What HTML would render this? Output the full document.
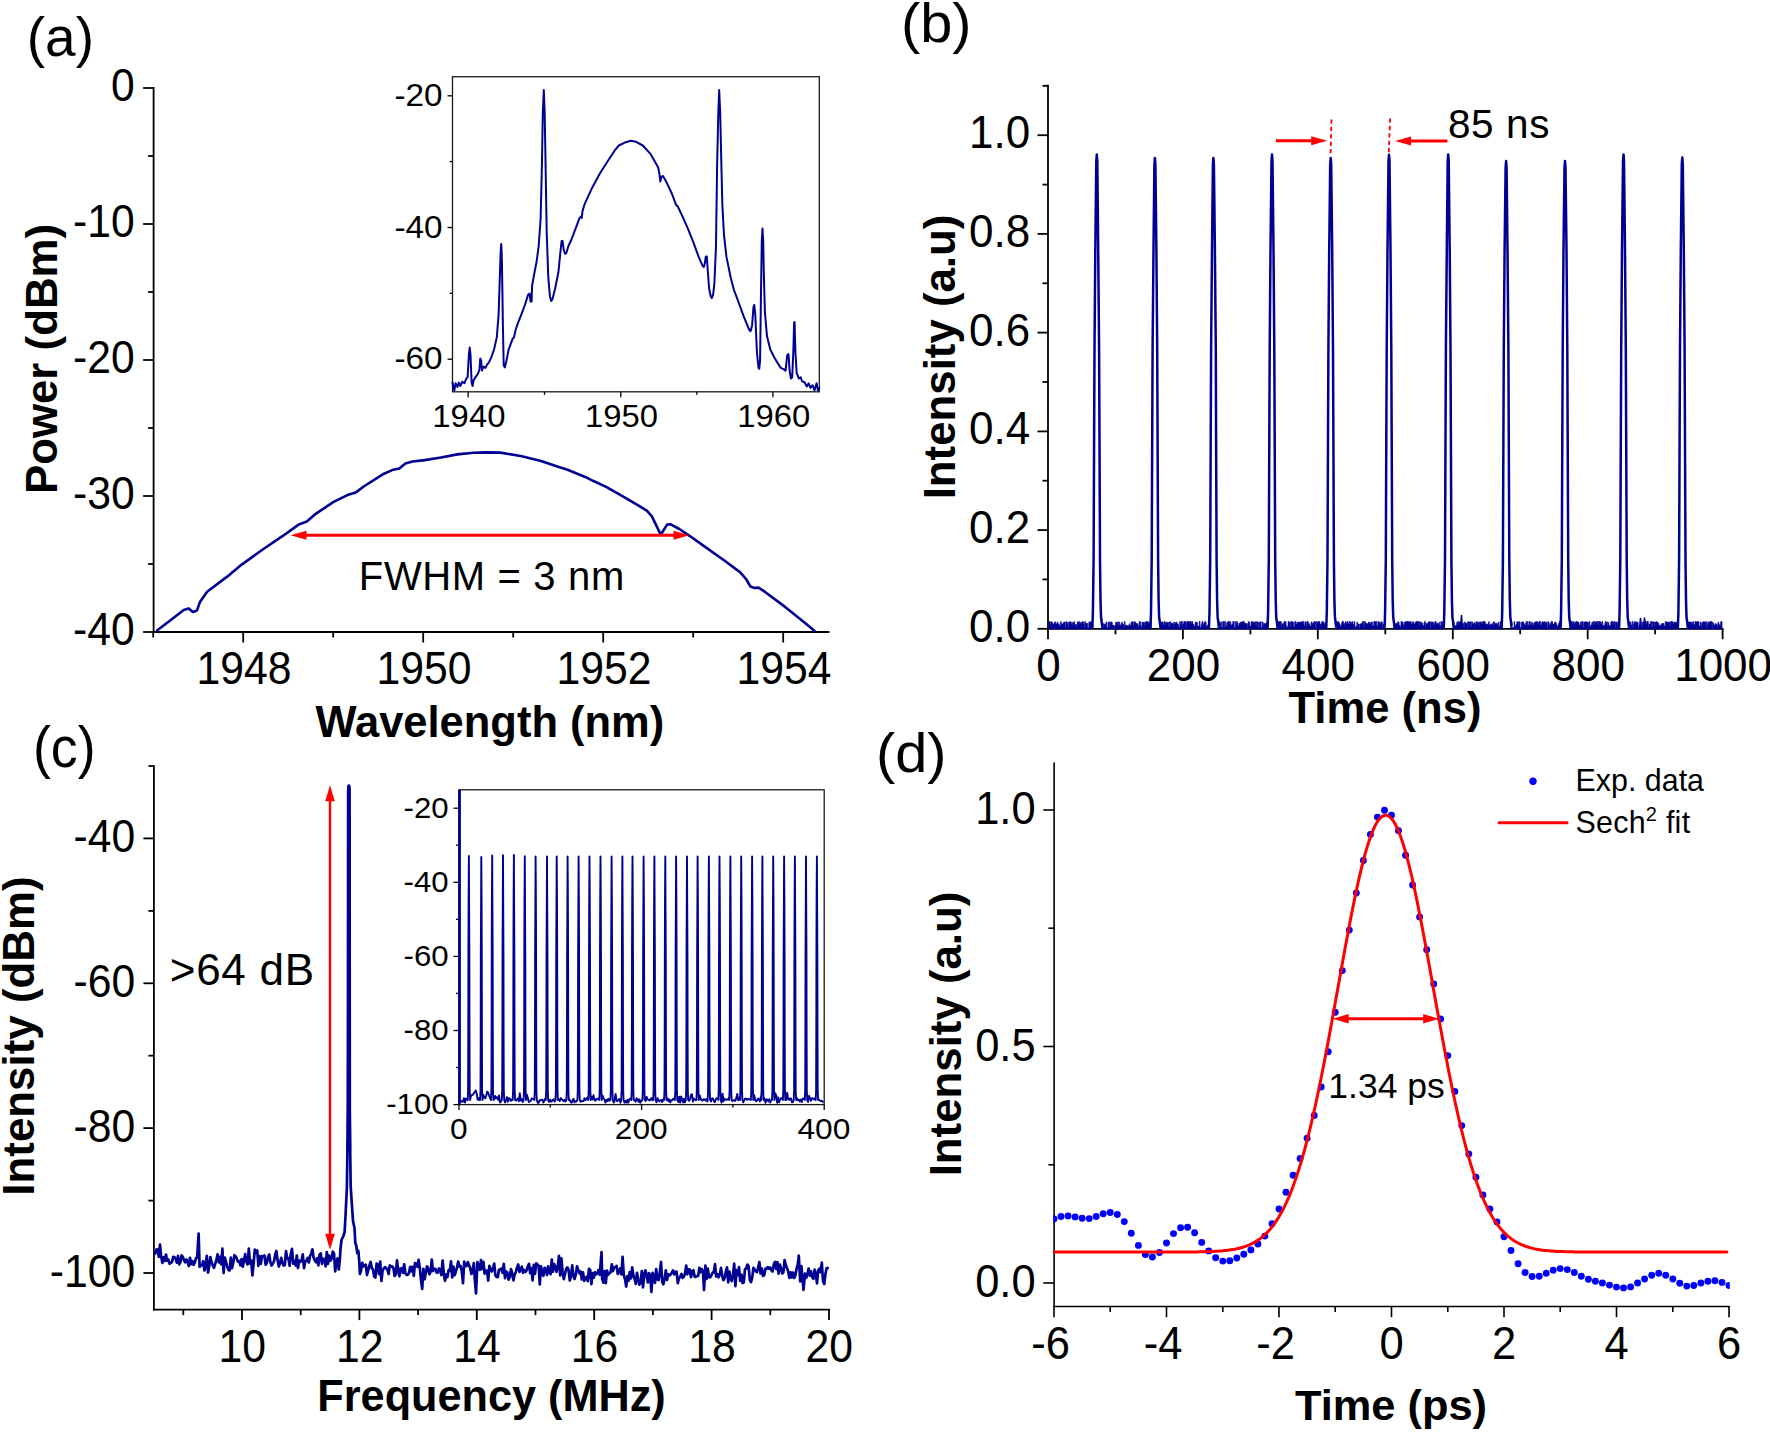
<!DOCTYPE html>
<html lang="en"><head><meta charset="utf-8"><title>Figure</title>
<style>html,body{margin:0;padding:0;background:#fff;}svg{display:block;}text{font-family:"Liberation Sans", sans-serif;fill:#000;}</style></head><body>
<svg width="1770" height="1432" viewBox="0 0 1770 1432">
<rect width="1770" height="1432" fill="#fff"/>
<line x1="153.6" y1="87.1" x2="153.6" y2="632.9" stroke="#000" stroke-width="1.8" />
<line x1="152.7" y1="632" x2="829.5" y2="632" stroke="#000" stroke-width="1.8" />
<line x1="143.1" y1="88" x2="153.6" y2="88" stroke="#000" stroke-width="1.8" />
<text transform="translate(134.7,100.6) scale(1.0,1.08)" font-size="42.7" text-anchor="end" font-weight="normal" >0</text>
<line x1="148.1" y1="156" x2="153.6" y2="156" stroke="#000" stroke-width="1.8" />
<line x1="143.1" y1="224" x2="153.6" y2="224" stroke="#000" stroke-width="1.8" />
<text transform="translate(134.7,236.6) scale(1.0,1.08)" font-size="42.7" text-anchor="end" font-weight="normal" >-10</text>
<line x1="148.1" y1="292" x2="153.6" y2="292" stroke="#000" stroke-width="1.8" />
<line x1="143.1" y1="360" x2="153.6" y2="360" stroke="#000" stroke-width="1.8" />
<text transform="translate(134.7,372.6) scale(1.0,1.08)" font-size="42.7" text-anchor="end" font-weight="normal" >-20</text>
<line x1="148.1" y1="428" x2="153.6" y2="428" stroke="#000" stroke-width="1.8" />
<line x1="143.1" y1="496" x2="153.6" y2="496" stroke="#000" stroke-width="1.8" />
<text transform="translate(134.7,508.6) scale(1.0,1.08)" font-size="42.7" text-anchor="end" font-weight="normal" >-30</text>
<line x1="148.1" y1="564" x2="153.6" y2="564" stroke="#000" stroke-width="1.8" />
<line x1="143.1" y1="632" x2="153.6" y2="632" stroke="#000" stroke-width="1.8" />
<text transform="translate(134.7,644.6) scale(1.0,1.08)" font-size="42.7" text-anchor="end" font-weight="normal" >-40</text>
<line x1="243.2" y1="632" x2="243.2" y2="642.5" stroke="#000" stroke-width="1.8" />
<text transform="translate(244,684) scale(1.0,1.1)" font-size="42.7" text-anchor="middle" font-weight="normal" >1948</text>
<line x1="153.2" y1="632" x2="153.2" y2="637.5" stroke="#000" stroke-width="1.8" />
<line x1="423.2" y1="632" x2="423.2" y2="642.5" stroke="#000" stroke-width="1.8" />
<text transform="translate(424,684) scale(1.0,1.1)" font-size="42.7" text-anchor="middle" font-weight="normal" >1950</text>
<line x1="333.2" y1="632" x2="333.2" y2="637.5" stroke="#000" stroke-width="1.8" />
<line x1="603.2" y1="632" x2="603.2" y2="642.5" stroke="#000" stroke-width="1.8" />
<text transform="translate(604,684) scale(1.0,1.1)" font-size="42.7" text-anchor="middle" font-weight="normal" >1952</text>
<line x1="513.2" y1="632" x2="513.2" y2="637.5" stroke="#000" stroke-width="1.8" />
<line x1="783.2" y1="632" x2="783.2" y2="642.5" stroke="#000" stroke-width="1.8" />
<text transform="translate(784,684) scale(1.0,1.1)" font-size="42.7" text-anchor="middle" font-weight="normal" >1954</text>
<line x1="693.2" y1="632" x2="693.2" y2="637.5" stroke="#000" stroke-width="1.8" />
<text transform="translate(57.3,359) rotate(-90)" font-size="43.8" text-anchor="middle" font-weight="bold">Power (dBm)</text>
<text transform="translate(489.9,736.8) scale(1.0,1.02)" font-size="43.5" text-anchor="middle" font-weight="bold" >Wavelength (nm)</text>
<text transform="translate(26.8,55.6) scale(0.99,1.0)" font-size="55.5" text-anchor="start" font-weight="normal" >(a)</text>
<polyline points="157.3,630.3 170.5,620.2 183.7,610 188.8,608.4 192.9,612 196.9,610.6 200,601.9 207.1,591.7 227.5,576.4 241.7,564.6 262,550 282.4,536.2 298.6,524.6 306.8,521.5 314.9,514.4 333.2,502.2 347.4,495.1 355.6,492.6 363.7,486.5 384,473.7 392.2,470.1 399.3,468.6 405.4,463.6 412.5,461.5 424.7,460.1 441,457.5 457.3,454.4 473.5,452.8 485.7,452.4 500.3,452.6 520.7,456 541,460.9 557.3,466.6 567.5,469.7 585.8,477.2 592.9,480.8 606.1,486.9 622.4,496.1 638.6,505.7 646.8,510.7 651.9,516.4 655.9,524.6 660,533.3 662,532.7 667.1,524.6 670.2,524.2 679.3,529 689.5,535.8 703.7,545.9 724,560.2 740.3,572.4 746.4,579.5 750.5,586.6 754.6,588 758.6,587.6 764.7,591.7 785.1,606.9 805.4,623.2 814.6,631" fill="none" stroke="#000092" stroke-width="2.6" stroke-linejoin="round" stroke-linecap="round" />
<polygon points="290.5,535.3 306.5,530.8 306.5,539.8" fill="#ff0000"/>
<polygon points="689.5,535.3 673.5,530.8 673.5,539.8" fill="#ff0000"/>
<line x1="305.5" y1="535.3" x2="674.5" y2="535.3" stroke="#ff0000" stroke-width="3" />
<text x="358.8" y="590" font-size="40" text-anchor="start" font-weight="normal"  letter-spacing="0.65">FWHM = 3 nm</text>
<rect x="452.5" y="76.7" width="366.8" height="315.1" fill="none" stroke="#1a1a1a" stroke-width="1.3"/>
<line x1="447.5" y1="95.8" x2="452.5" y2="95.8" stroke="#000" stroke-width="1.3" />
<text transform="translate(442.6,105.9) scale(1.075,1.0)" font-size="31" text-anchor="end" font-weight="normal" >-20</text>
<line x1="447.5" y1="227.5" x2="452.5" y2="227.5" stroke="#000" stroke-width="1.3" />
<text transform="translate(442.6,237.6) scale(1.075,1.0)" font-size="31" text-anchor="end" font-weight="normal" >-40</text>
<line x1="447.5" y1="359.2" x2="452.5" y2="359.2" stroke="#000" stroke-width="1.3" />
<text transform="translate(442.6,369.3) scale(1.075,1.0)" font-size="31" text-anchor="end" font-weight="normal" >-60</text>
<line x1="449.7" y1="161.6" x2="452.5" y2="161.6" stroke="#000" stroke-width="1.3" />
<line x1="449.7" y1="293.3" x2="452.5" y2="293.3" stroke="#000" stroke-width="1.3" />
<line x1="468.1" y1="391.8" x2="468.1" y2="397.3" stroke="#000" stroke-width="1.3" />
<text transform="translate(468.9,427.2) scale(1.06,1.0)" font-size="31" text-anchor="middle" font-weight="normal" >1940</text>
<line x1="620.8" y1="391.8" x2="620.8" y2="397.3" stroke="#000" stroke-width="1.3" />
<text transform="translate(621.6,427.2) scale(1.06,1.0)" font-size="31" text-anchor="middle" font-weight="normal" >1950</text>
<line x1="772.9" y1="391.8" x2="772.9" y2="397.3" stroke="#000" stroke-width="1.3" />
<text transform="translate(773.7,427.2) scale(1.06,1.0)" font-size="31" text-anchor="middle" font-weight="normal" >1960</text>
<line x1="544.5" y1="391.8" x2="544.5" y2="394.8" stroke="#000" stroke-width="1.3" />
<line x1="696.8" y1="391.8" x2="696.8" y2="394.8" stroke="#000" stroke-width="1.3" />
<polyline points="452.5,382.5 454.3,390.5 455.6,383.3 457.5,387 458.8,382.5 460.4,386 462.3,381.7 464.4,383.3 466.3,378.5 467.6,377.2 468.9,354.6 469.7,347.5 470.5,354.6 471.6,382.5 472.6,386 473.7,379.8 475.6,377.2 478.2,373.2 479.5,369.2 480.3,358.6 481.1,359.9 481.9,370.6 483.5,366.6 485.4,367.9 487,364.7 488.8,362.6 491.5,356.8 494.1,349.3 496.8,337.4 498.6,314.8 500,272.3 500.6,253.8 501.2,243.9 501.7,253.8 502.1,272.3 502.9,325.4 503.7,365.3 504.8,367.4 506.1,362.6 508.7,349.3 512.7,338.7 514,337.4 515.4,330.7 518,322.8 520.7,316.1 524.7,305.5 528.1,294.9 529.7,293.6 530.5,301.5 531.6,301.5 532.1,285.6 534,275 536.6,261.7 538.7,245.8 540.6,219.3 541.9,166.2 542.8,113.1 543.8,90 544.7,113.1 545.6,166.2 546.7,232.5 548.3,277.7 549.9,296.2 551.2,301 552.5,298.9 555.2,288.3 558.4,272.3 560.5,251.1 561.6,241 562.6,241 563.7,249.8 565,253.8 566.3,253.2 568.5,245.8 571.1,240.5 575.1,229.9 579.6,217.9 580.9,216.6 581.7,217.9 582.5,211.3 584.4,204.7 592.3,187.4 600.3,172.8 608.3,160.3 614.9,150.2 618.9,145.5 624.2,142.8 630.8,140.7 636.1,141.8 642.8,145.5 650.7,154.2 658.2,167.5 659.5,174.1 660.3,181.6 661.4,176.8 663,176 666.7,182.6 672,194 676,204.7 677.8,206.5 682.6,216.6 687.9,228.6 693.2,241.8 698.5,256.4 702.5,265.7 703.8,267 704.9,263.1 705.7,257 706.8,256.4 707.5,267 709.1,288.3 710.7,296.2 711.8,298.1 713.1,294.9 714.4,283 716,245.8 717.1,166.2 718.3,113.1 719.2,90 720.2,113.1 721.4,166.2 722.4,206 724,235.2 726.4,256.4 730.4,276.3 733.8,289.6 738.3,301.5 743.6,316.1 749,329.4 750.5,331.3 752.1,325.4 753.5,306.9 754.3,305 755.3,314.8 756.9,352 758.5,367.9 759.3,368.7 760.1,359.9 760.9,298.9 761.8,240.5 762.5,228.6 763.2,240.5 763.8,272.3 764.9,312.2 767,336.1 770.2,349.3 774.2,357.3 778.2,363.9 780.8,367.9 783.5,369.2 785.6,370.6 787.2,355.2 788.5,354.1 789.6,370.6 790.9,378.5 792.2,377.2 793.3,352 794.1,322.8 794.6,322 795.4,352 796.7,373.2 798.9,378.5 800.7,377.2 802,381.2 804.7,382.5 806.8,386.5 808.7,383.3 810.5,387.8 812.7,385.2 814.5,390.5 816.6,383.3 818,390.5 819.3,387.8" fill="none" stroke="#000092" stroke-width="2.0" stroke-linejoin="round" stroke-linecap="round" />
<line x1="1048" y1="84.7" x2="1048" y2="629.7" stroke="#000" stroke-width="1.8" />
<line x1="1047.1" y1="628.8" x2="1723.5" y2="628.8" stroke="#000" stroke-width="1.8" />
<line x1="1037.5" y1="135.2" x2="1048" y2="135.2" stroke="#000" stroke-width="1.8" />
<text transform="translate(1030.2,148.1) scale(1.0,1.03)" font-size="44" text-anchor="end" font-weight="normal" >1.0</text>
<line x1="1042.5" y1="85.8" x2="1048" y2="85.8" stroke="#000" stroke-width="1.8" />
<line x1="1037.5" y1="233.9" x2="1048" y2="233.9" stroke="#000" stroke-width="1.8" />
<text transform="translate(1030.2,246.8) scale(1.0,1.03)" font-size="44" text-anchor="end" font-weight="normal" >0.8</text>
<line x1="1042.5" y1="184.6" x2="1048" y2="184.6" stroke="#000" stroke-width="1.8" />
<line x1="1037.5" y1="332.6" x2="1048" y2="332.6" stroke="#000" stroke-width="1.8" />
<text transform="translate(1030.2,345.5) scale(1.0,1.03)" font-size="44" text-anchor="end" font-weight="normal" >0.6</text>
<line x1="1042.5" y1="283.3" x2="1048" y2="283.3" stroke="#000" stroke-width="1.8" />
<line x1="1037.5" y1="431.4" x2="1048" y2="431.4" stroke="#000" stroke-width="1.8" />
<text transform="translate(1030.2,444.3) scale(1.0,1.03)" font-size="44" text-anchor="end" font-weight="normal" >0.4</text>
<line x1="1042.5" y1="382" x2="1048" y2="382" stroke="#000" stroke-width="1.8" />
<line x1="1037.5" y1="530.1" x2="1048" y2="530.1" stroke="#000" stroke-width="1.8" />
<text transform="translate(1030.2,543) scale(1.0,1.03)" font-size="44" text-anchor="end" font-weight="normal" >0.2</text>
<line x1="1042.5" y1="480.7" x2="1048" y2="480.7" stroke="#000" stroke-width="1.8" />
<line x1="1037.5" y1="628.8" x2="1048" y2="628.8" stroke="#000" stroke-width="1.8" />
<text transform="translate(1030.2,641.7) scale(1.0,1.03)" font-size="44" text-anchor="end" font-weight="normal" >0.0</text>
<line x1="1042.5" y1="579.4" x2="1048" y2="579.4" stroke="#000" stroke-width="1.8" />
<line x1="1048" y1="628.8" x2="1048" y2="639.3" stroke="#000" stroke-width="1.8" />
<text transform="translate(1048.5,681.3) scale(1.0,1.03)" font-size="44" text-anchor="middle" font-weight="normal" >0</text>
<line x1="1115.5" y1="628.8" x2="1115.5" y2="634.3" stroke="#000" stroke-width="1.8" />
<line x1="1182.9" y1="628.8" x2="1182.9" y2="639.3" stroke="#000" stroke-width="1.8" />
<text transform="translate(1183.4,681.3) scale(1.0,1.03)" font-size="44" text-anchor="middle" font-weight="normal" >200</text>
<line x1="1250.4" y1="628.8" x2="1250.4" y2="634.3" stroke="#000" stroke-width="1.8" />
<line x1="1317.8" y1="628.8" x2="1317.8" y2="639.3" stroke="#000" stroke-width="1.8" />
<text transform="translate(1318.3,681.3) scale(1.0,1.03)" font-size="44" text-anchor="middle" font-weight="normal" >400</text>
<line x1="1385.3" y1="628.8" x2="1385.3" y2="634.3" stroke="#000" stroke-width="1.8" />
<line x1="1452.8" y1="628.8" x2="1452.8" y2="639.3" stroke="#000" stroke-width="1.8" />
<text transform="translate(1453.3,681.3) scale(1.0,1.03)" font-size="44" text-anchor="middle" font-weight="normal" >600</text>
<line x1="1520.2" y1="628.8" x2="1520.2" y2="634.3" stroke="#000" stroke-width="1.8" />
<line x1="1587.7" y1="628.8" x2="1587.7" y2="639.3" stroke="#000" stroke-width="1.8" />
<text transform="translate(1588.2,681.3) scale(1.0,1.03)" font-size="44" text-anchor="middle" font-weight="normal" >800</text>
<line x1="1655.1" y1="628.8" x2="1655.1" y2="634.3" stroke="#000" stroke-width="1.8" />
<line x1="1722.6" y1="628.8" x2="1722.6" y2="639.3" stroke="#000" stroke-width="1.8" />
<text transform="translate(1723.1,681.3) scale(1.0,1.03)" font-size="44" text-anchor="middle" font-weight="normal" >1000</text>
<text transform="translate(955,357) rotate(-90)" font-size="43.8" text-anchor="middle" font-weight="bold">Intensity (a.u)</text>
<text x="1385" y="722.7" font-size="43.6" text-anchor="middle" font-weight="bold" >Time (ns)</text>
<text transform="translate(901,41.5) scale(1.03,1.0)" font-size="56" text-anchor="start" font-weight="normal" >(b)</text>
<path d="M1049,629L1049,621.6L1049.7,621.6L1049.7,621.9L1050.3,621.9L1050.3,624.3L1051,624.3L1051,621.8L1051.7,621.8L1051.7,622L1052.4,622L1052.4,625.1L1053,625.1L1053,623.9L1053.7,623.9L1053.7,623.7L1054.4,623.7L1054.4,622.3L1055.1,622.3L1055.1,621.9L1055.7,621.9L1055.7,624L1056.4,624L1056.4,624L1057.1,624L1057.1,622.1L1057.8,622.1L1057.8,623.8L1059.1,623.8L1059.1,625.6L1060.5,625.6L1060.5,621.6L1061.1,621.6L1061.1,623.5L1061.8,623.5L1061.8,624.3L1063.2,624.3L1063.2,622.4L1063.8,622.4L1063.8,623.4L1064.5,623.4L1064.5,621.9L1065.2,621.9L1065.2,626.9L1065.9,626.9L1065.9,621.8L1067.2,621.8L1067.2,623.7L1067.9,623.7L1067.9,627.3L1068.6,627.3L1068.6,622.1L1069.9,622.1L1069.9,621.8L1070.6,621.8L1070.6,621.9L1071.3,621.9L1071.3,623.8L1071.9,623.8L1071.9,625.2L1072.6,625.2L1072.6,622.3L1074,622.3L1074,621.8L1074.6,621.8L1074.6,626L1075.3,626L1075.3,624.4L1076.7,624.4L1076.7,627L1077.3,627L1077.3,622.1L1078,622.1L1078,622L1078.7,622L1078.7,621.5L1079.4,621.5L1079.4,623.6L1080,623.6L1080,623.8L1080.7,623.8L1080.7,622.3L1082.1,622.3L1082.1,621.8L1083.4,621.8L1083.4,623.3L1084.1,623.3L1084.1,627.2L1084.8,627.2L1084.8,621.5L1085.4,621.5L1085.4,623.8L1086.1,623.8L1086.1,623.3L1086.8,623.3L1086.8,623.4L1087.5,623.4L1087.5,627.4L1088.8,627.4L1088.8,622.2L1090.2,622.2L1090.2,621.7L1090.8,621.7L1090.8,621.7L1091.5,621.7L1091.5,622.1L1092.2,622.1L1092.2,622.4L1092.8,622.4L1092.8,629Z" fill="#000092" stroke="#000092" stroke-width="0.7" stroke-linejoin="round"/>
<path d="M1101.4,629L1101.4,621.9L1102.1,621.9L1102.1,625.4L1102.7,625.4L1102.7,623.5L1103.4,623.5L1103.4,627.2L1104.1,627.2L1104.1,624.1L1104.8,624.1L1104.8,623.9L1105.4,623.9L1105.4,626L1106.1,626L1106.1,621.9L1106.8,621.9L1106.8,627.6L1108.1,627.6L1108.1,622.1L1108.8,622.1L1108.8,622.3L1109.5,622.3L1109.5,627.2L1110.2,627.2L1110.2,621.9L1110.8,621.9L1110.8,622L1111.5,622L1111.5,622.1L1112.2,622.1L1112.2,625.1L1113.5,625.1L1113.5,625.9L1114.9,625.9L1114.9,625.5L1115.6,625.5L1115.6,622.3L1116.9,622.3L1116.9,622.1L1117.6,622.1L1117.6,625.2L1118.3,625.2L1118.3,622L1119.6,622L1119.6,625.2L1121,625.2L1121,623.6L1121.6,623.6L1121.6,622.2L1122.3,622.2L1122.3,624.3L1123.7,624.3L1123.7,627L1124.3,627L1124.3,621.6L1125,621.6L1125,625.4L1126.4,625.4L1126.4,625.1L1127,625.1L1127,625.8L1128.4,625.8L1128.4,626.1L1129.1,626.1L1129.1,623.8L1129.7,623.8L1129.7,625.9L1130.4,625.9L1130.4,625.2L1131.1,625.2L1131.1,622.1L1131.8,622.1L1131.8,621.9L1133.1,621.9L1133.1,625.1L1133.8,625.1L1133.8,621.7L1134.5,621.7L1134.5,623.9L1135.1,623.9L1135.1,622L1135.8,622L1135.8,623.7L1137.2,623.7L1137.2,623.5L1137.8,623.5L1137.8,627.7L1138.5,627.7L1138.5,625.2L1139.2,625.2L1139.2,621.7L1139.9,621.7L1139.9,621.6L1140.5,621.6L1140.5,626.1L1141.2,626.1L1141.2,627.4L1141.9,627.4L1141.9,622.3L1143.2,622.3L1143.2,622.4L1144.6,622.4L1144.6,625.2L1145.3,625.2L1145.3,621.8L1146.6,621.8L1146.6,621.6L1147.3,621.6L1147.3,621.8L1148,621.8L1148,623.7L1148.6,623.7L1148.6,621.9L1149.3,621.9L1149.3,623.3L1150,623.3L1150,626.9L1150.7,626.9L1150.7,622.3L1150.9,622.3L1150.9,629Z" fill="#000092" stroke="#000092" stroke-width="0.7" stroke-linejoin="round"/>
<path d="M1159.5,629L1159.5,621.5L1160.8,621.5L1160.8,625.8L1161.5,625.8L1161.5,621.9L1162.9,621.9L1162.9,623.3L1163.5,623.3L1163.5,625.2L1164.2,625.2L1164.2,621.4L1164.9,621.4L1164.9,625.1L1165.6,625.1L1165.6,622.3L1166.9,622.3L1166.9,622.4L1168.3,622.4L1168.3,627.1L1168.9,627.1L1168.9,622.1L1169.6,622.1L1169.6,627.1L1170.3,627.1L1170.3,621.7L1171,621.7L1171,623.4L1172.3,623.4L1172.3,623.4L1173,623.4L1173,626.2L1173.7,626.2L1173.7,622.1L1174.3,622.1L1174.3,623.5L1175.7,623.5L1175.7,622.2L1177,622.2L1177,623.9L1178.4,623.9L1178.4,627.1L1179.1,627.1L1179.1,627.1L1179.7,627.1L1179.7,621.7L1180.4,621.7L1180.4,625L1181.1,625L1181.1,621.5L1182.4,621.5L1182.4,625.8L1183.1,625.8L1183.1,624L1183.8,624L1183.8,621.6L1185.1,621.6L1185.1,621.8L1185.8,621.8L1185.8,627.3L1186.5,627.3L1186.5,622.3L1187.2,622.3L1187.2,621.4L1188.5,621.4L1188.5,621.7L1189.2,621.7L1189.2,622.2L1189.9,622.2L1189.9,621.5L1191.2,621.5L1191.2,623.7L1191.9,623.7L1191.9,621.6L1192.6,621.6L1192.6,624.1L1193.9,624.1L1193.9,625.9L1195.3,625.9L1195.3,622.1L1195.9,622.1L1195.9,622.2L1197.3,622.2L1197.3,626L1198,626L1198,627.6L1198.6,627.6L1198.6,625.7L1199.3,625.7L1199.3,621.4L1200,621.4L1200,627.2L1201.3,627.2L1201.3,624L1202,624L1202,621.4L1202.7,621.4L1202.7,625.6L1203.4,625.6L1203.4,623.3L1204.7,623.3L1204.7,621.5L1205.4,621.5L1205.4,622.2L1206.1,622.2L1206.1,626.2L1207.4,626.2L1207.4,625.1L1208.1,625.1L1208.1,625.7L1208.8,625.7L1208.8,621.5L1209.4,621.5L1209.4,629Z" fill="#000092" stroke="#000092" stroke-width="0.7" stroke-linejoin="round"/>
<path d="M1218,629L1218,624L1218.7,624L1218.7,621.5L1219.3,621.5L1219.3,626.9L1220,626.9L1220,623.5L1220.7,623.5L1220.7,621.9L1221.4,621.9L1221.4,627.3L1222,627.3L1222,627.7L1222.7,627.7L1222.7,621.5L1224.1,621.5L1224.1,627.2L1224.7,627.2L1224.7,621.5L1225.4,621.5L1225.4,626.9L1226.1,626.9L1226.1,625.8L1226.8,625.8L1226.8,622.3L1228.1,622.3L1228.1,621.4L1229.5,621.4L1229.5,623.7L1230.1,623.7L1230.1,621.8L1230.8,621.8L1230.8,625L1231.5,625L1231.5,625.1L1232.2,625.1L1232.2,624.3L1232.8,624.3L1232.8,621.5L1234.2,621.5L1234.2,627.4L1234.9,627.4L1234.9,627.6L1235.5,627.6L1235.5,621.5L1236.2,621.5L1236.2,623.4L1236.9,623.4L1236.9,621.7L1237.6,621.7L1237.6,625.5L1238.2,625.5L1238.2,625.8L1238.9,625.8L1238.9,623.3L1240.3,623.3L1240.3,622.2L1240.9,622.2L1240.9,622.3L1241.6,622.3L1241.6,621.8L1242.3,621.8L1242.3,622.1L1243,622.1L1243,621.6L1244.3,621.6L1244.3,623.7L1245,623.7L1245,623.3L1246.3,623.3L1246.3,623.7L1247,623.7L1247,627.2L1247.7,627.2L1247.7,623.5L1248.4,623.5L1248.4,621.5L1249,621.5L1249,622.2L1249.7,622.2L1249.7,625.9L1251.1,625.9L1251.1,622.1L1251.7,622.1L1251.7,621.7L1252.4,621.7L1252.4,622L1253.1,622L1253.1,621.9L1253.8,621.9L1253.8,622.3L1255.1,622.3L1255.1,621.8L1255.8,621.8L1255.8,626L1256.5,626L1256.5,621.8L1257.8,621.8L1257.8,627.3L1258.5,627.3L1258.5,622.3L1259.8,622.3L1259.8,627L1260.5,627L1260.5,621.6L1261.2,621.6L1261.2,627.5L1262.5,627.5L1262.5,622.2L1263.2,622.2L1263.2,625.3L1263.9,625.3L1263.9,623.6L1264.6,623.6L1264.6,623.8L1265.9,623.8L1265.9,623.3L1266.6,623.3L1266.6,622.3L1267.3,622.3L1267.3,621.6L1267.9,621.6L1267.9,621.7L1268,621.7L1268,629Z" fill="#000092" stroke="#000092" stroke-width="0.7" stroke-linejoin="round"/>
<path d="M1276.6,629L1276.6,621.7L1277.3,621.7L1277.3,621.6L1277.9,621.6L1277.9,621.8L1278.6,621.8L1278.6,621.6L1280,621.6L1280,621.6L1281.3,621.6L1281.3,627L1282,627L1282,624.1L1282.7,624.1L1282.7,623.4L1283.3,623.4L1283.3,625.6L1284,625.6L1284,621.6L1284.7,621.6L1284.7,621.6L1285.4,621.6L1285.4,622L1286,622L1286,625.6L1286.7,625.6L1286.7,626.9L1288.1,626.9L1288.1,621.4L1288.7,621.4L1288.7,622.1L1289.4,622.1L1289.4,622.3L1290.1,622.3L1290.1,626.2L1290.8,626.2L1290.8,621.6L1292.1,621.6L1292.1,622.1L1293.5,622.1L1293.5,626.2L1294.8,626.2L1294.8,621.4L1295.5,621.4L1295.5,621.8L1296.2,621.8L1296.2,624.1L1297.5,624.1L1297.5,622.2L1298.9,622.2L1298.9,622.1L1299.5,622.1L1299.5,622.3L1300.2,622.3L1300.2,622.1L1301.6,622.1L1301.6,621.8L1302.9,621.8L1302.9,621.4L1303.6,621.4L1303.6,625.1L1304.3,625.1L1304.3,626.1L1304.9,626.1L1304.9,621.7L1305.6,621.7L1305.6,622.1L1306.3,622.1L1306.3,627.1L1307,627.1L1307,621.6L1308.3,621.6L1308.3,623.8L1309.7,623.8L1309.7,626.1L1311,626.1L1311,621.9L1311.7,621.9L1311.7,625.9L1312.4,625.9L1312.4,623.6L1313,623.6L1313,622.2L1313.7,622.2L1313.7,623.7L1314.4,623.7L1314.4,621.5L1315.1,621.5L1315.1,621.9L1315.7,621.9L1315.7,627.7L1316.4,627.7L1316.4,621.5L1317.1,621.5L1317.1,622.4L1318.4,622.4L1318.4,621.5L1319.8,621.5L1319.8,624L1320.5,624L1320.5,625.4L1321.1,625.4L1321.1,623.6L1321.8,623.6L1321.8,621.6L1322.5,621.6L1322.5,621.7L1323.2,621.7L1323.2,621.8L1323.8,621.8L1323.8,623.5L1324.5,623.5L1324.5,624.4L1325.2,624.4L1325.2,622.3L1325.9,622.3L1325.9,626.1L1326.5,626.1L1326.5,625.3L1326.7,625.3L1326.7,629Z" fill="#000092" stroke="#000092" stroke-width="0.7" stroke-linejoin="round"/>
<path d="M1335.3,629L1335.3,622.4L1336,622.4L1336,627.2L1336.6,627.2L1336.6,621.7L1337.3,621.7L1337.3,622L1338,622L1338,621.8L1338.7,621.8L1338.7,622.4L1339.3,622.4L1339.3,624L1340,624L1340,626L1341.4,626L1341.4,623.4L1342,623.4L1342,621.4L1343.4,621.4L1343.4,623.3L1344.1,623.3L1344.1,625.8L1344.7,625.8L1344.7,623.3L1345.4,623.3L1345.4,621.7L1346.1,621.7L1346.1,623.7L1346.8,623.7L1346.8,622L1347.4,622L1347.4,621.4L1348.1,621.4L1348.1,623.7L1349.5,623.7L1349.5,621.4L1350.1,621.4L1350.1,622.2L1351.5,622.2L1351.5,623.6L1352.2,623.6L1352.2,621.5L1352.8,621.5L1352.8,624.3L1353.5,624.3L1353.5,624.3L1354.2,624.3L1354.2,621.7L1354.9,621.7L1354.9,626.9L1356.2,626.9L1356.2,626L1356.9,626L1356.9,622.2L1357.6,622.2L1357.6,627.3L1358.2,627.3L1358.2,624L1358.9,624L1358.9,627.4L1359.6,627.4L1359.6,624.2L1360.9,624.2L1360.9,623.4L1362.3,623.4L1362.3,621.6L1363.6,621.6L1363.6,627L1364.3,627L1364.3,621.6L1365,621.6L1365,622L1365.7,622L1365.7,623.6L1367,623.6L1367,623.9L1367.7,623.9L1367.7,623.6L1368.4,623.6L1368.4,622.1L1369.7,622.1L1369.7,623.4L1370.4,623.4L1370.4,623.8L1371.1,623.8L1371.1,622L1372.4,622L1372.4,626L1373.8,626L1373.8,621.5L1375.1,621.5L1375.1,622.2L1375.8,622.2L1375.8,621.5L1376.5,621.5L1376.5,625.6L1377.1,625.6L1377.1,626.1L1377.8,626.1L1377.8,621.5L1378.5,621.5L1378.5,622.4L1379.8,622.4L1379.8,622.2L1380.5,622.2L1380.5,624.1L1381.2,624.1L1381.2,621.8L1381.9,621.8L1381.9,622.3L1382.5,622.3L1382.5,627.3L1383.2,627.3L1383.2,624.3L1383.9,624.3L1383.9,623.9L1384.6,623.9L1384.6,621.4L1385,621.4L1385,629Z" fill="#000092" stroke="#000092" stroke-width="0.7" stroke-linejoin="round"/>
<path d="M1393.6,629L1393.6,622L1394.3,622L1394.3,624.3L1394.9,624.3L1394.9,625.3L1395.6,625.3L1395.6,623.6L1397,623.6L1397,623.9L1397.6,623.9L1397.6,621.9L1399,621.9L1399,625.4L1400.3,625.4L1400.3,627.4L1401,627.4L1401,621.5L1401.7,621.5L1401.7,622.1L1402.4,622.1L1402.4,621.9L1403,621.9L1403,624.4L1403.7,624.4L1403.7,625.9L1404.4,625.9L1404.4,622L1405.7,622L1405.7,621.8L1406.4,621.8L1406.4,621.6L1407.1,621.6L1407.1,621.4L1407.8,621.4L1407.8,621.9L1408.4,621.9L1408.4,621.7L1409.1,621.7L1409.1,622L1410.5,622L1410.5,621.4L1411.1,621.4L1411.1,623.7L1411.8,623.7L1411.8,624.2L1412.5,624.2L1412.5,621.7L1413.2,621.7L1413.2,622.2L1413.8,622.2L1413.8,623.9L1415.2,623.9L1415.2,622.3L1415.9,622.3L1415.9,621.4L1416.5,621.4L1416.5,621.5L1417.2,621.5L1417.2,622L1417.9,622L1417.9,621.6L1419.2,621.6L1419.2,625.2L1419.9,625.2L1419.9,622L1421.3,622L1421.3,623.2L1422.6,623.2L1422.6,625.6L1424,625.6L1424,622.4L1424.6,622.4L1424.6,621.4L1425.3,621.4L1425.3,626.1L1426,626.1L1426,623.5L1427.3,623.5L1427.3,624.3L1428,624.3L1428,622.3L1428.7,622.3L1428.7,621.9L1429.4,621.9L1429.4,621.6L1430,621.6L1430,627.5L1430.7,627.5L1430.7,621.8L1431.4,621.8L1431.4,622.3L1432.7,622.3L1432.7,621.9L1433.4,621.9L1433.4,625.5L1434.1,625.5L1434.1,623.6L1434.8,623.6L1434.8,622L1435.4,622L1435.4,621.4L1436.1,621.4L1436.1,623.4L1436.8,623.4L1436.8,623.2L1437.5,623.2L1437.5,624L1438.1,624L1438.1,625.1L1438.8,625.1L1438.8,622.4L1439.5,622.4L1439.5,625.9L1440.8,625.9L1440.8,621.6L1441.5,621.6L1441.5,622.3L1442.2,622.3L1442.2,625.8L1442.9,625.8L1442.9,621.5L1443.5,621.5L1443.5,621.7L1444.2,621.7L1444.2,629Z" fill="#000092" stroke="#000092" stroke-width="0.7" stroke-linejoin="round"/>
<path d="M1452.8,629L1452.8,621.7L1453.5,621.7L1453.5,622.2L1454.1,622.2L1454.1,625.7L1455.5,625.7L1455.5,625.7L1456.2,625.7L1456.2,625L1456.8,625L1456.8,622.1L1457.5,622.1L1457.5,624.2L1458.2,624.2L1458.2,621.4L1458.9,621.4L1458.9,622.2L1459.5,622.2L1459.5,621.9L1460.9,621.9L1460.9,624.2L1462.2,624.2L1462.2,624.3L1462.9,624.3L1462.9,623.4L1463.6,623.4L1463.6,627L1464.3,627L1464.3,622L1464.9,622L1464.9,622.4L1465.6,622.4L1465.6,623.6L1467,623.6L1467,627.7L1467.6,627.7L1467.6,622L1468.3,622L1468.3,621.7L1469,621.7L1469,622.3L1469.7,622.3L1469.7,626.9L1470.3,626.9L1470.3,621.7L1471,621.7L1471,625.5L1471.7,625.5L1471.7,621.8L1472.4,621.8L1472.4,623.4L1473.7,623.4L1473.7,624L1474.4,624L1474.4,622.2L1475.1,622.2L1475.1,626.2L1475.7,626.2L1475.7,623.6L1476.4,623.6L1476.4,621.6L1477.1,621.6L1477.1,622.1L1477.8,622.1L1477.8,622.4L1478.4,622.4L1478.4,625.5L1479.1,625.5L1479.1,622.3L1479.8,622.3L1479.8,621.8L1480.5,621.8L1480.5,622.3L1481.8,622.3L1481.8,623.8L1482.5,623.8L1482.5,621.5L1483.8,621.5L1483.8,621.6L1485.2,621.6L1485.2,623.9L1486.5,623.9L1486.5,625.8L1487.2,625.8L1487.2,624L1488.6,624L1488.6,621.7L1489.2,621.7L1489.2,625.3L1490.6,625.3L1490.6,624L1491.3,624L1491.3,625.6L1491.9,625.6L1491.9,623.7L1492.6,623.7L1492.6,625.4L1493.3,625.4L1493.3,621.9L1494,621.9L1494,621.9L1494.6,621.9L1494.6,624.3L1495.3,624.3L1495.3,623.3L1496.7,623.3L1496.7,624.1L1497.3,624.1L1497.3,624.2L1498,624.2L1498,622.3L1498.7,622.3L1498.7,627L1499.4,627L1499.4,625.7L1500,625.7L1500,621.8L1500.7,621.8L1500.7,621.8L1502.1,621.8L1502.1,624L1502.1,624L1502.1,629Z" fill="#000092" stroke="#000092" stroke-width="0.7" stroke-linejoin="round"/>
<path d="M1510.7,629L1510.7,621.7L1512,621.7L1512,627.3L1512.7,627.3L1512.7,627.8L1514.1,627.8L1514.1,621.5L1514.7,621.5L1514.7,625.8L1516.1,625.8L1516.1,624.1L1516.8,624.1L1516.8,622L1518.1,622L1518.1,621.7L1518.8,621.7L1518.8,625.6L1519.5,625.6L1519.5,621.8L1520.1,621.8L1520.1,627.5L1521.5,627.5L1521.5,622.1L1522.2,622.1L1522.2,622.1L1522.8,622.1L1522.8,621.8L1523.5,621.8L1523.5,623.6L1524.2,623.6L1524.2,625.1L1524.9,625.1L1524.9,625.2L1525.5,625.2L1525.5,623.2L1526.2,623.2L1526.2,621.5L1526.9,621.5L1526.9,621.5L1527.6,621.5L1527.6,625.2L1528.9,625.2L1528.9,621.6L1530.3,621.6L1530.3,625.2L1530.9,625.2L1530.9,624.3L1531.6,624.3L1531.6,622.1L1532.3,622.1L1532.3,625.5L1533,625.5L1533,623.5L1533.6,623.5L1533.6,625.6L1534.3,625.6L1534.3,622.3L1535.7,622.3L1535.7,621.6L1536.3,621.6L1536.3,621.7L1537.7,621.7L1537.7,624.2L1538.4,624.2L1538.4,622.4L1539,622.4L1539,621.8L1539.7,621.8L1539.7,621.4L1540.4,621.4L1540.4,625.1L1541.7,625.1L1541.7,622.3L1542.4,622.3L1542.4,621.8L1543.1,621.8L1543.1,622.3L1543.8,622.3L1543.8,622.2L1544.4,622.2L1544.4,621.7L1545.1,621.7L1545.1,624.2L1545.8,624.2L1545.8,621.9L1546.5,621.9L1546.5,623.5L1547.1,623.5L1547.1,627.5L1547.8,627.5L1547.8,621.7L1548.5,621.7L1548.5,622.4L1549.2,622.4L1549.2,625L1550.5,625L1550.5,623.3L1551.2,623.3L1551.2,621.4L1552.5,621.4L1552.5,624L1553.9,624L1553.9,624L1554.6,624L1554.6,622.1L1555.9,622.1L1555.9,623.4L1556.6,623.4L1556.6,625.5L1557.3,625.5L1557.3,627.5L1557.9,627.5L1557.9,625.2L1558.6,625.2L1558.6,623.5L1559.3,623.5L1559.3,621.4L1560,621.4L1560,622L1560.6,622L1560.6,621.9L1561,621.9L1561,629Z" fill="#000092" stroke="#000092" stroke-width="0.7" stroke-linejoin="round"/>
<path d="M1569.6,629L1569.6,625.5L1570.9,625.5L1570.9,621.4L1572.3,621.4L1572.3,624.4L1573,624.4L1573,621.8L1573.6,621.8L1573.6,621.9L1574.3,621.9L1574.3,623.7L1575,623.7L1575,623.3L1575.7,623.3L1575.7,621.5L1577,621.5L1577,622.1L1577.7,622.1L1577.7,622.1L1578.4,622.1L1578.4,622.1L1579,622.1L1579,625.1L1580.4,625.1L1580.4,622.3L1581.1,622.3L1581.1,626.9L1581.7,626.9L1581.7,621.4L1582.4,621.4L1582.4,621.7L1583.1,621.7L1583.1,627.6L1583.8,627.6L1583.8,622.3L1585.1,622.3L1585.1,621.6L1585.8,621.6L1585.8,622L1587.1,622L1587.1,622.2L1588.5,622.2L1588.5,627.6L1589.2,627.6L1589.2,621.5L1589.8,621.5L1589.8,625.9L1590.5,625.9L1590.5,625.7L1591.2,625.7L1591.2,624.4L1591.9,624.4L1591.9,622.1L1592.5,622.1L1592.5,625.3L1593.2,625.3L1593.2,621.7L1593.9,621.7L1593.9,624.2L1594.6,624.2L1594.6,621.5L1595.2,621.5L1595.2,622.3L1596.6,622.3L1596.6,621.5L1597.9,621.5L1597.9,625.2L1598.6,625.2L1598.6,621.5L1600,621.5L1600,621.6L1600.6,621.6L1600.6,623.2L1602,623.2L1602,621.5L1602.7,621.5L1602.7,625.3L1603.3,625.3L1603.3,625.6L1604.7,625.6L1604.7,623.4L1605.4,623.4L1605.4,621.6L1606,621.6L1606,622L1607.4,622L1607.4,626L1608.1,626L1608.1,622.4L1608.7,622.4L1608.7,625.4L1610.1,625.4L1610.1,625.2L1610.8,625.2L1610.8,621.9L1611.4,621.9L1611.4,621.6L1612.8,621.6L1612.8,623.5L1613.5,623.5L1613.5,622.3L1614.1,622.3L1614.1,621.4L1614.8,621.4L1614.8,627.2L1615.5,627.2L1615.5,622L1616.8,622L1616.8,622.2L1617.5,622.2L1617.5,625.8L1618.2,625.8L1618.2,623.3L1618.9,623.3L1618.9,624L1619.5,624L1619.5,629Z" fill="#000092" stroke="#000092" stroke-width="0.7" stroke-linejoin="round"/>
<path d="M1628.1,629L1628.1,622.2L1628.8,622.2L1628.8,627.8L1629.4,627.8L1629.4,622.3L1630.1,622.3L1630.1,622L1630.8,622L1630.8,625.1L1632.1,625.1L1632.1,621.5L1632.8,621.5L1632.8,627.5L1633.5,627.5L1633.5,623.7L1634.2,623.7L1634.2,621.8L1635.5,621.8L1635.5,621.9L1636.2,621.9L1636.2,622.2L1636.9,622.2L1636.9,622.3L1637.5,622.3L1637.5,622.2L1638.2,622.2L1638.2,627.7L1638.9,627.7L1638.9,626.1L1640.2,626.1L1640.2,625.8L1641.6,625.8L1641.6,627.1L1642.3,627.1L1642.3,622L1642.9,622L1642.9,622.1L1643.6,622.1L1643.6,623.9L1644.3,623.9L1644.3,621.5L1645.6,621.5L1645.6,621.6L1646.3,621.6L1646.3,623.6L1647,623.6L1647,621.5L1648.3,621.5L1648.3,626.9L1649,626.9L1649,624.1L1649.7,624.1L1649.7,624.2L1650.4,624.2L1650.4,621.6L1651,621.6L1651,621.7L1651.7,621.7L1651.7,626.9L1652.4,626.9L1652.4,621.6L1653.1,621.6L1653.1,622L1654.4,622L1654.4,625.4L1655.1,625.4L1655.1,622.2L1655.8,622.2L1655.8,621.8L1657.1,621.8L1657.1,622L1657.8,622L1657.8,625.6L1658.5,625.6L1658.5,623.4L1659.1,623.4L1659.1,626.1L1660.5,626.1L1660.5,625.2L1661.2,625.2L1661.2,624L1661.8,624L1661.8,623.4L1662.5,623.4L1662.5,623.8L1663.2,623.8L1663.2,623.6L1663.9,623.6L1663.9,626L1665.2,626L1665.2,621.8L1666.6,621.8L1666.6,622.1L1667.2,622.1L1667.2,622.2L1667.9,622.2L1667.9,622.1L1668.6,622.1L1668.6,622.3L1669.3,622.3L1669.3,622.1L1669.9,622.1L1669.9,626L1670.6,626L1670.6,621.5L1672,621.5L1672,621.4L1672.6,621.4L1672.6,622.4L1673.3,622.4L1673.3,623.4L1674,623.4L1674,622.2L1674.7,622.2L1674.7,622.3L1675.3,622.3L1675.3,622.2L1676.7,622.2L1676.7,624L1677.4,624L1677.4,621.5L1678,621.5L1678,621.5L1678.3,621.5L1678.3,629Z" fill="#000092" stroke="#000092" stroke-width="0.7" stroke-linejoin="round"/>
<path d="M1686.9,629L1686.9,624.1L1687.6,624.1L1687.6,621.8L1688.2,621.8L1688.2,623.5L1688.9,623.5L1688.9,622L1690.3,622L1690.3,622.2L1691.6,622.2L1691.6,623.9L1692.3,623.9L1692.3,622.3L1693,622.3L1693,621.6L1693.6,621.6L1693.6,624.2L1694.3,624.2L1694.3,626L1695,626L1695,621.5L1695.7,621.5L1695.7,621.8L1696.3,621.8L1696.3,621.9L1697,621.9L1697,621.6L1697.7,621.6L1697.7,621.8L1699,621.8L1699,626.1L1699.7,626.1L1699.7,626.1L1700.4,626.1L1700.4,622L1701.1,622L1701.1,627.4L1701.7,627.4L1701.7,623.5L1702.4,623.5L1702.4,622.4L1703.1,622.4L1703.1,621.7L1703.8,621.7L1703.8,622L1704.4,622L1704.4,622L1705.1,622L1705.1,621.9L1705.8,621.9L1705.8,627.4L1706.5,627.4L1706.5,621.5L1707.1,621.5L1707.1,625.7L1707.8,625.7L1707.8,623.4L1708.5,623.4L1708.5,621.9L1709.8,621.9L1709.8,621.7L1710.5,621.7L1710.5,621.6L1711.9,621.6L1711.9,627.2L1712.5,627.2L1712.5,622.4L1713.2,622.4L1713.2,623.8L1713.9,623.8L1713.9,625.3L1714.6,625.3L1714.6,625.2L1715.2,625.2L1715.2,623.6L1715.9,623.6L1715.9,624.2L1716.6,624.2L1716.6,625.1L1717.3,625.1L1717.3,627.5L1717.9,627.5L1717.9,622.1L1718.6,622.1L1718.6,623.9L1719.3,623.9L1719.3,625.6L1720.6,625.6L1720.6,622L1721.3,622L1721.3,621.5L1722,621.5L1722,629Z" fill="#000092" stroke="#000092" stroke-width="0.7" stroke-linejoin="round"/>
<polyline points="1092.4,627 1092.9,612 1093.6,560 1094.1,440 1094.5,349 1095.3,250 1096.3,161 1096.8,154.6 1097.3,161 1098.2,250 1099.1,349 1099.5,440 1100,560 1100.5,600 1101,617 1102.1,625" fill="none" stroke="#000092" stroke-width="2.5" stroke-linejoin="round" stroke-linecap="round" />
<polyline points="1150.5,627 1151,612 1151.7,560 1152.2,440 1152.6,349 1153.5,250 1154.4,164.3 1154.9,157.9 1155.4,164.3 1156.4,250 1157.2,349 1157.6,440 1158.1,560 1158.6,600 1159.1,617 1160.2,625" fill="none" stroke="#000092" stroke-width="2.5" stroke-linejoin="round" stroke-linecap="round" />
<polyline points="1209,627 1209.5,612 1210.2,560 1210.7,440 1211.1,349 1212,250 1212.9,164.3 1213.4,157.9 1213.9,164.3 1214.9,250 1215.8,349 1216.1,440 1216.6,560 1217.1,600 1217.6,617 1218.7,625" fill="none" stroke="#000092" stroke-width="2.5" stroke-linejoin="round" stroke-linecap="round" />
<polyline points="1267.6,627 1268.1,612 1268.8,560 1269.3,440 1269.7,349 1270.5,250 1271.5,161 1272,154.6 1272.5,161 1273.5,250 1274.3,349 1274.7,440 1275.2,560 1275.7,600 1276.2,617 1277.3,625" fill="none" stroke="#000092" stroke-width="2.5" stroke-linejoin="round" stroke-linecap="round" />
<polyline points="1326.3,627 1326.8,612 1327.5,560 1328,440 1328.4,349 1329.2,250 1330.2,164.3 1330.7,157.9 1331.2,164.3 1332.2,250 1333,349 1333.4,440 1333.9,560 1334.4,600 1334.9,617 1336,625" fill="none" stroke="#000092" stroke-width="2.5" stroke-linejoin="round" stroke-linecap="round" />
<polyline points="1384.6,627 1385.1,612 1385.8,560 1386.3,440 1386.7,349 1387.5,250 1388.5,161.2 1389,154.8 1389.5,161.2 1390.5,250 1391.3,349 1391.7,440 1392.2,560 1392.7,600 1393.2,617 1394.3,625" fill="none" stroke="#000092" stroke-width="2.5" stroke-linejoin="round" stroke-linecap="round" />
<polyline points="1443.8,627 1444.3,612 1445,560 1445.5,440 1445.9,349 1446.8,250 1447.7,160.8 1448.2,154.4 1448.7,160.8 1449.7,250 1450.5,349 1450.9,440 1451.4,560 1451.9,600 1452.4,617 1453.5,625" fill="none" stroke="#000092" stroke-width="2.5" stroke-linejoin="round" stroke-linecap="round" />
<polyline points="1501.7,627 1502.2,612 1502.9,560 1503.4,440 1503.8,349 1504.6,250 1505.6,167.4 1506.1,161 1506.6,167.4 1507.5,250 1508.4,349 1508.8,440 1509.3,560 1509.8,600 1510.3,617 1511.4,625" fill="none" stroke="#000092" stroke-width="2.5" stroke-linejoin="round" stroke-linecap="round" />
<polyline points="1560.6,627 1561.1,612 1561.8,560 1562.3,440 1562.7,349 1563.5,250 1564.5,167.4 1565,161 1565.5,167.4 1566.5,250 1567.3,349 1567.7,440 1568.2,560 1568.7,600 1569.2,617 1570.3,625" fill="none" stroke="#000092" stroke-width="2.5" stroke-linejoin="round" stroke-linecap="round" />
<polyline points="1619.1,627 1619.6,612 1620.3,560 1620.8,440 1621.2,349 1622,250 1623,160.8 1623.5,154.4 1624,160.8 1625,250 1625.8,349 1626.2,440 1626.7,560 1627.2,600 1627.7,617 1628.8,625" fill="none" stroke="#000092" stroke-width="2.5" stroke-linejoin="round" stroke-linecap="round" />
<polyline points="1677.9,627 1678.4,612 1679.1,560 1679.6,440 1680,349 1680.8,250 1681.8,164 1682.3,157.6 1682.8,164 1683.8,250 1684.6,349 1685,440 1685.5,560 1686,600 1686.5,617 1687.6,625" fill="none" stroke="#000092" stroke-width="2.5" stroke-linejoin="round" stroke-linecap="round" />
<polyline points="1460.8,626 1461.5,615.5 1462.2,626" fill="none" stroke="#000092" stroke-width="1.6" stroke-linejoin="round" stroke-linecap="round" />
<polyline points="1639.8,626 1640.5,618.5 1641.2,626" fill="none" stroke="#000092" stroke-width="1.6" stroke-linejoin="round" stroke-linecap="round" />
<polyline points="1643.8,626 1644.5,618 1645.2,626" fill="none" stroke="#000092" stroke-width="1.6" stroke-linejoin="round" stroke-linecap="round" />
<polygon points="1327.2,140.8 1311.2,136.3 1311.2,145.3" fill="#ff0000"/>
<line x1="1276" y1="140.8" x2="1312.2" y2="140.8" stroke="#ff0000" stroke-width="3" />
<polygon points="1395,141 1411,136.5 1411,145.5" fill="#ff0000"/>
<line x1="1410" y1="141" x2="1447.5" y2="141" stroke="#ff0000" stroke-width="3" />
<line x1="1331.5" y1="119.5" x2="1330.5" y2="155.5" stroke="#ff0000" stroke-width="1.8" stroke-dasharray="4.2 3.2"/>
<line x1="1390.1" y1="118.5" x2="1388.7" y2="154" stroke="#ff0000" stroke-width="1.8" stroke-dasharray="4.2 3.2"/>
<text x="1448" y="137.6" font-size="40.5" text-anchor="start" font-weight="normal"  letter-spacing="0.6">85 ns</text>
<line x1="153.9" y1="764.9" x2="153.9" y2="1310.5" stroke="#000" stroke-width="1.8" />
<line x1="153" y1="1309.6" x2="830.1" y2="1309.6" stroke="#000" stroke-width="1.8" />
<line x1="143.4" y1="838.4" x2="153.9" y2="838.4" stroke="#000" stroke-width="1.8" />
<text transform="translate(135.2,852.1) scale(1.0,1.075)" font-size="42.7" text-anchor="end" font-weight="normal" >-40</text>
<line x1="148.4" y1="766" x2="153.9" y2="766" stroke="#000" stroke-width="1.8" />
<line x1="143.4" y1="983.3" x2="153.9" y2="983.3" stroke="#000" stroke-width="1.8" />
<text transform="translate(135.2,997) scale(1.0,1.075)" font-size="42.7" text-anchor="end" font-weight="normal" >-60</text>
<line x1="148.4" y1="910.9" x2="153.9" y2="910.9" stroke="#000" stroke-width="1.8" />
<line x1="143.4" y1="1128.1" x2="153.9" y2="1128.1" stroke="#000" stroke-width="1.8" />
<text transform="translate(135.2,1141.8) scale(1.0,1.075)" font-size="42.7" text-anchor="end" font-weight="normal" >-80</text>
<line x1="148.4" y1="1055.7" x2="153.9" y2="1055.7" stroke="#000" stroke-width="1.8" />
<line x1="143.4" y1="1273" x2="153.9" y2="1273" stroke="#000" stroke-width="1.8" />
<text transform="translate(135.2,1286.7) scale(1.0,1.075)" font-size="42.7" text-anchor="end" font-weight="normal" >-100</text>
<line x1="148.4" y1="1200.6" x2="153.9" y2="1200.6" stroke="#000" stroke-width="1.8" />
<line x1="242" y1="1309.6" x2="242" y2="1320.1" stroke="#000" stroke-width="1.8" />
<text transform="translate(242.3,1362.2) scale(1.0,1.075)" font-size="42.7" text-anchor="middle" font-weight="normal" >10</text>
<line x1="183.3" y1="1309.6" x2="183.3" y2="1315.1" stroke="#000" stroke-width="1.8" />
<line x1="359.4" y1="1309.6" x2="359.4" y2="1320.1" stroke="#000" stroke-width="1.8" />
<text transform="translate(359.7,1362.2) scale(1.0,1.075)" font-size="42.7" text-anchor="middle" font-weight="normal" >12</text>
<line x1="300.7" y1="1309.6" x2="300.7" y2="1315.1" stroke="#000" stroke-width="1.8" />
<line x1="476.8" y1="1309.6" x2="476.8" y2="1320.1" stroke="#000" stroke-width="1.8" />
<text transform="translate(477.1,1362.2) scale(1.0,1.075)" font-size="42.7" text-anchor="middle" font-weight="normal" >14</text>
<line x1="418.1" y1="1309.6" x2="418.1" y2="1315.1" stroke="#000" stroke-width="1.8" />
<line x1="594.2" y1="1309.6" x2="594.2" y2="1320.1" stroke="#000" stroke-width="1.8" />
<text transform="translate(594.5,1362.2) scale(1.0,1.075)" font-size="42.7" text-anchor="middle" font-weight="normal" >16</text>
<line x1="535.5" y1="1309.6" x2="535.5" y2="1315.1" stroke="#000" stroke-width="1.8" />
<line x1="711.6" y1="1309.6" x2="711.6" y2="1320.1" stroke="#000" stroke-width="1.8" />
<text transform="translate(711.9,1362.2) scale(1.0,1.075)" font-size="42.7" text-anchor="middle" font-weight="normal" >18</text>
<line x1="652.9" y1="1309.6" x2="652.9" y2="1315.1" stroke="#000" stroke-width="1.8" />
<line x1="829" y1="1309.6" x2="829" y2="1320.1" stroke="#000" stroke-width="1.8" />
<text transform="translate(829.3,1362.2) scale(1.0,1.075)" font-size="42.7" text-anchor="middle" font-weight="normal" >20</text>
<line x1="770.3" y1="1309.6" x2="770.3" y2="1315.1" stroke="#000" stroke-width="1.8" />
<text transform="translate(34,1036) rotate(-90)" font-size="43.9" text-anchor="middle" font-weight="bold">Intensity (dBm)</text>
<text transform="translate(491.5,1411.2) scale(1.0,1.04)" font-size="43.25" text-anchor="middle" font-weight="bold" >Frequency (MHz)</text>
<text transform="translate(33,767.4) scale(0.95,1.0)" font-size="56.5" text-anchor="start" font-weight="normal" >(c)</text>
<polyline points="155.2,1253.6 156.4,1249.6 157.6,1249.3 158.8,1256.8 160,1244.6 161.2,1256.8 162.4,1263 163.6,1257.2 164.8,1260.8 166,1254.6 167.2,1261 168.4,1259.5 169.6,1263.8 170.8,1262.6 172,1262.2 173.2,1256.8 174.4,1257.1 175.6,1258.8 176.8,1262.6 178,1255.9 179.2,1264.3 180.4,1262.3 181.6,1255.4 182.8,1256.9 184,1260.3 185.2,1262.3 186.4,1259.4 187.6,1261.9 188.8,1266 190,1257.8 191.2,1264.2 192.4,1261.1 193.6,1264.8 194.8,1262.6 196,1258.1 197.2,1257.5 198.6,1233.6 199.6,1266.8 200.8,1265.3 202,1265.1 203.2,1261.2 204.4,1270.5 205.6,1265.6 206.8,1255.9 208,1272.7 209.2,1266 210.4,1257 211.6,1262.6 212.8,1265.4 214,1267.9 215.2,1263.8 216.4,1259.9 217.6,1254.2 218.8,1262.4 220,1256.9 221.2,1264.4 222.4,1248.7 223.6,1273 224.8,1257.5 226,1261.8 227.2,1266.6 228.4,1269.9 229.6,1270.4 230.8,1257.6 232,1268.2 233.2,1263 234.4,1255.2 235.6,1256.2 236.8,1258.7 238,1261.7 239.2,1261.1 240.4,1265.3 241.6,1259 242.8,1266.7 244,1260.4 245.2,1254.1 246.4,1261.6 247.6,1264.4 248.8,1248.7 250,1263.3 251.2,1260.4 252.4,1275.5 253.6,1263.5 254.8,1249.7 256,1252.5 257.2,1250.4 258.4,1265.8 259.6,1256.2 260.8,1263.9 262,1256.1 263.2,1256.5 264.4,1255.4 265.6,1264.6 266.8,1262.9 268,1256.9 269.2,1254.5 270.4,1262.2 271.6,1265.6 272.8,1263.8 274,1261.2 275.2,1254.7 276.4,1251 277.6,1260.3 278.8,1266.6 280,1263.2 281.2,1257.8 282.4,1262.7 283.6,1265.5 284.8,1265.2 286,1251 287.2,1258.5 288.4,1258.2 289.6,1265.9 290.8,1254 292,1248.9 293.2,1263.6 294.4,1261 295.6,1265.5 296.8,1255.5 298,1268 299.2,1260.7 300.4,1261.9 301.6,1260.2 302.8,1254.3 304,1268.2 305.2,1261.3 306.4,1260.9 307.6,1257.9 308.8,1262.4 310,1256.1 311.2,1253.9 312.4,1249.3 313.6,1257.6 314.8,1260.5 316,1262.1 317.2,1258.1 318.4,1265.4 319.6,1254.6 320.8,1253.5 322,1263.8 323.2,1258.8 324.4,1258.9 325.6,1266.4 326.8,1252 328,1263.8 329.2,1255.5 330.4,1260.6 331.6,1258.5 332.8,1251.6 334,1253.4 335.2,1271.3 336.4,1262.5 337.6,1258.4 338.8,1269.5 340,1257.3 340.3,1251 341.5,1240 343.4,1236 344.6,1232 345.4,1218 346.9,1187 348.2,1100 348.6,790 348.9,786 349.1,790 349.5,1100 350.7,1187 353,1221 354.5,1228 355.3,1243 356.4,1246 357.2,1253 358.4,1251 359.3,1262 359.9,1274 361,1270.7 362.2,1262.8 363.4,1266.4 364.6,1265.4 365.8,1264.7 367,1275 368.2,1270.5 369.4,1265.6 370.6,1261.8 371.8,1268.1 373,1269.5 374.2,1276.4 375.4,1277.5 376.6,1263.5 377.8,1264.3 379,1274.2 380.2,1261.6 381.4,1281 382.6,1270.6 383.8,1268.5 385,1267.1 386.2,1268.1 387.4,1269.5 388.6,1274 389.8,1265.3 391,1266.6 392.2,1266.4 393.4,1267.9 394.6,1276 395.8,1274.5 397,1260.4 398.2,1269.5 399.4,1276.3 400.6,1268.5 401.8,1268.2 403,1272.9 404.2,1264.3 405.4,1273.4 406.6,1274.9 407.8,1274.6 409,1273 410.2,1266.8 411.4,1271.3 412.6,1266.9 413.8,1275.9 415,1263 416.2,1263.7 417.4,1266.9 418.6,1259.9 419.8,1267.8 421,1280 422.2,1288.9 423.4,1268.9 424.6,1279.2 425.8,1272.9 427,1266.4 428.2,1268.5 429.4,1274.3 430.6,1271.6 431.8,1259.6 433,1271 434.2,1269.3 435.4,1268.8 436.6,1272.5 437.8,1272.6 439,1268.5 440.2,1269.6 441.4,1275.2 442.6,1260.5 443.8,1272.7 445,1280.8 446.2,1274.3 447.4,1277 448.6,1270.2 449.8,1270.9 451,1261.4 452.2,1277.5 453.4,1266.6 454.6,1275.2 455.8,1271.7 457,1267.4 458.2,1261.6 459.4,1266.7 460.6,1266 461.8,1271.4 463,1283.1 464.2,1261.7 465.4,1266.2 466.6,1266 467.8,1262.1 469,1265 470.2,1267.9 471.4,1274 472.6,1270.7 473.8,1263.1 475,1282 476,1293.5 477.4,1262.2 478.6,1266.2 479.8,1269.9 481,1260.2 482.2,1269 483.4,1261.8 484.6,1273.6 485.8,1270.5 487,1270.6 488.2,1280.6 489.4,1265.9 490.6,1268.8 491.8,1271.4 493,1268.9 494.2,1263.5 495.4,1275.4 496.6,1276.9 497.8,1277.2 499,1269.6 500.2,1270 501.4,1268.5 502.6,1272.9 503.8,1263.9 505,1278.2 506.2,1271.4 507.4,1272.5 508.6,1279.7 509.8,1277.2 511,1269.1 512.2,1273.2 513.4,1280.4 514.6,1274.8 515.8,1272.2 517,1267.7 518.2,1264.5 519.4,1271.9 520.6,1270.3 521.8,1266.6 523,1272.8 524.2,1270.1 525.4,1272 526.6,1270.4 527.8,1266.3 529,1263.8 530.2,1273.2 531.4,1268 532.6,1280.4 533.8,1264.8 535,1273.8 536.2,1263.4 537.4,1264.3 538.6,1265.7 539.8,1284.3 541,1266.3 542.2,1271.6 543.4,1275.8 544.6,1267.9 545.8,1268.7 547,1275.1 548.2,1266.4 549.4,1272.7 550.6,1274.1 551.8,1259.5 553,1271.7 554.2,1264.1 555.4,1267.2 556.6,1271.8 557.8,1266.1 559,1255.8 560.2,1275.3 561.4,1258.4 562.6,1272.2 563.8,1279.1 565,1273.9 566.2,1268.9 567.4,1267.4 568.6,1270.1 569.8,1280.5 571,1276.1 572.2,1265.3 573.4,1276.2 574.6,1278.9 575.8,1274.6 577,1266.3 578.2,1269.9 579.4,1273.3 580.6,1271.4 581.8,1279.5 583,1272.4 584.2,1280.8 585.4,1278.2 586.6,1276.8 587.8,1281.1 589,1268.8 590.2,1269.9 591.4,1284.1 592.6,1273.1 593.8,1277.6 595,1272.2 596.2,1274.3 597.4,1273.4 598.6,1270 599.8,1274.9 601.5,1252 602.2,1279.1 603.4,1282.6 604.6,1271 605.8,1283.1 607,1270.6 608.2,1274.8 609.4,1272.8 610.6,1272.6 611.8,1264.3 613,1271.1 614.2,1267.4 615.4,1267.5 616.6,1265.9 617.8,1274 619,1271.6 620.2,1268.3 621.4,1274.4 622.6,1256.8 623.8,1275.1 625,1279.1 626.2,1286.6 627.4,1276.2 628.6,1280.8 629.8,1272 631,1278.4 632.2,1267.4 633.4,1275.3 634.6,1278.7 635.8,1283.9 637,1272.8 638.2,1279.7 639.4,1284.7 640.6,1282.1 641.8,1271.1 643,1287.4 644.2,1274.9 645.4,1270.3 646.6,1275.1 647.8,1282.5 649,1273.2 650.2,1275 651.4,1291.9 652.6,1272.8 653.8,1278.3 655,1282.8 656.2,1269 657.4,1279.4 658.6,1280.1 659.8,1272.8 661,1261.8 662.2,1281.8 663.4,1284.3 664.6,1278.8 665.8,1270.4 667,1280 668.2,1274.2 669.4,1275.3 670.6,1274.4 671.8,1272.7 673,1270.4 674.2,1274.4 675.4,1272.1 676.6,1271.6 677.8,1283.2 679,1278.2 680.2,1276.8 681.4,1273.9 682.6,1277.9 683.8,1276.7 685,1273.5 686.2,1265.7 687.4,1274.3 688.6,1269.4 689.8,1269.6 691,1277.2 692.2,1271.3 693.4,1270.2 694.6,1276.6 695.8,1276.8 697,1276.2 698.2,1275.7 699.4,1267.9 700.6,1272.1 701.8,1269.1 703,1271.8 704,1290 705.4,1265.6 706.6,1278.9 707.8,1268.7 709,1277.2 710.2,1277.3 711.4,1275.3 712.6,1272.7 713.8,1272.5 715,1264.2 716.2,1276.5 717.4,1274.2 718.6,1277.3 719.8,1274.5 721,1267.9 722.2,1275.8 723.4,1280.2 724.6,1278 725.8,1271.7 727,1267.3 728.2,1282.4 729.4,1271.6 730.6,1278.6 731.8,1281.1 733,1274.7 734.2,1263.7 735.4,1286.1 736.6,1270.1 737.8,1275.2 739,1267.2 740.2,1280.8 741.4,1274.5 742.6,1283 743.8,1282.4 745,1269.1 746.2,1268.5 747.4,1264.6 748.6,1266.1 749.8,1280 751,1282.1 752.2,1277.7 753.4,1267.9 754.6,1269.4 755.8,1271.4 757,1272.2 758.2,1267.3 759.4,1262 760.6,1273.5 761.8,1268.6 763,1276 764.2,1275.2 765.4,1268.7 766.6,1268.9 767.8,1267.1 769,1268.6 770.2,1267.5 771.4,1270.4 772.6,1271.6 773.8,1264.1 775,1262 776.2,1269.1 777.4,1262.2 778.6,1273.7 779.8,1264.5 781,1268.4 782.2,1273.5 783.4,1272.3 784.6,1260.2 785.8,1265 787,1268.2 788.2,1271.5 789.4,1278 790.6,1272.4 791.8,1277.4 793,1272.6 794.2,1278 795.4,1275.3 796.6,1268.7 797.8,1264.3 798.8,1255.5 800.2,1281.4 801.4,1266 802.6,1279.1 803.5,1290 805,1273.7 806.2,1277.8 807.4,1274.5 808.6,1268.5 809.8,1275.6 811,1271.4 812.2,1277 813.4,1278.8 814.6,1269.7 815.8,1273.7 817,1283.3 818.2,1270.4 819.4,1268.6 820.6,1272.2 821.8,1262.7 823,1281 824.2,1284 825.4,1274.3 826.6,1268.1 827.8,1268.1" fill="none" stroke="#000092" stroke-width="2.7" stroke-linejoin="round" stroke-linecap="round" />
<polyline points="348.2,1150 348.5,792 348.9,786 349.2,792 349.5,1150" fill="none" stroke="#000092" stroke-width="3.4" stroke-linejoin="round" stroke-linecap="round" />
<polygon points="330,785.2 325.2,801.2 334.8,801.2" fill="#ff0000"/>
<polygon points="330,1249.8 325.2,1233.8 334.8,1233.8" fill="#ff0000"/>
<line x1="330" y1="800.2" x2="330" y2="1234.8" stroke="#ff0000" stroke-width="2.4" />
<text x="169.8" y="985" font-size="44" text-anchor="start" font-weight="normal"  letter-spacing="0.7">&gt;64 dB</text>
<rect x="459.0" y="789.8" width="365.2" height="314.8" fill="none" stroke="#1a1a1a" stroke-width="1.3"/>
<line x1="453.5" y1="808.2" x2="459" y2="808.2" stroke="#000" stroke-width="1.3" />
<text transform="translate(448.6,817.6) scale(1.04,1.0)" font-size="30" text-anchor="end" font-weight="normal" >-20</text>
<line x1="456" y1="845.2" x2="459" y2="845.2" stroke="#000" stroke-width="1.3" />
<line x1="453.5" y1="882.3" x2="459" y2="882.3" stroke="#000" stroke-width="1.3" />
<text transform="translate(448.6,891.7) scale(1.04,1.0)" font-size="30" text-anchor="end" font-weight="normal" >-40</text>
<line x1="456" y1="919.3" x2="459" y2="919.3" stroke="#000" stroke-width="1.3" />
<line x1="453.5" y1="956.4" x2="459" y2="956.4" stroke="#000" stroke-width="1.3" />
<text transform="translate(448.6,965.8) scale(1.04,1.0)" font-size="30" text-anchor="end" font-weight="normal" >-60</text>
<line x1="456" y1="993.4" x2="459" y2="993.4" stroke="#000" stroke-width="1.3" />
<line x1="453.5" y1="1030.5" x2="459" y2="1030.5" stroke="#000" stroke-width="1.3" />
<text transform="translate(448.6,1039.9) scale(1.04,1.0)" font-size="30" text-anchor="end" font-weight="normal" >-80</text>
<line x1="456" y1="1067.5" x2="459" y2="1067.5" stroke="#000" stroke-width="1.3" />
<line x1="453.5" y1="1104.6" x2="459" y2="1104.6" stroke="#000" stroke-width="1.3" />
<text transform="translate(448.6,1114) scale(1.04,1.0)" font-size="30" text-anchor="end" font-weight="normal" >-100</text>
<line x1="459" y1="1104.6" x2="459" y2="1110.1" stroke="#000" stroke-width="1.3" />
<text transform="translate(458.7,1138.8) scale(1.075,1.0)" font-size="29.5" text-anchor="middle" font-weight="normal" >0</text>
<line x1="641.6" y1="1104.6" x2="641.6" y2="1110.1" stroke="#000" stroke-width="1.3" />
<text transform="translate(641.3,1138.8) scale(1.075,1.0)" font-size="29.5" text-anchor="middle" font-weight="normal" >200</text>
<line x1="824.2" y1="1104.6" x2="824.2" y2="1110.1" stroke="#000" stroke-width="1.3" />
<text transform="translate(823.9,1138.8) scale(1.075,1.0)" font-size="29.5" text-anchor="middle" font-weight="normal" >400</text>
<line x1="550.3" y1="1104.6" x2="550.3" y2="1107.6" stroke="#000" stroke-width="1.3" />
<line x1="732.9" y1="1104.6" x2="732.9" y2="1107.6" stroke="#000" stroke-width="1.3" />
<polyline points="459.6,790.8 459.6,1101.5 461.2,1101 462.1,1101.8 463.1,1101.6 464,1098.1 465,1102.5 465.9,1098.7 466.9,1099.2 467.7,1100 468.1,1090 468.3,1030 468.4,960 468.6,900 468.9,856 469.1,900 469.4,960 469.5,1030 469.7,1090 470.1,1100 471,1095.7 471.9,1095 472.9,1094.9 473.8,1093.2 474.8,1092.1 475.7,1090.4 476.7,1093.7 477.6,1099.7 478.6,1098 479.5,1100.1 480.1,1100 480.5,1090 480.7,1030 480.8,960 481.1,900 481.3,856.9 481.6,900 481.8,960 481.9,1030 482.1,1090 482.5,1100 483.4,1095 484.4,1097.3 485.3,1098.3 486.2,1095.7 487.2,1091.6 488.1,1092.5 489.1,1095.6 490,1097.9 491,1100 491.4,1090 491.6,1030 491.7,960 491.9,900 492.2,855.5 492.4,900 492.7,960 492.8,1030 493,1090 493.4,1100 494.3,1099.5 495.2,1096 496.2,1098.1 497.1,1097.3 498.1,1099.8 499,1095.4 500,1102.6 500.9,1101.6 501.8,1100 502.2,1090 502.4,1030 502.5,960 502.8,900 503,855.1 503.2,900 503.5,960 503.6,1030 503.8,1090 504.2,1100 505.1,1102.5 506.1,1099.7 507,1097.1 507.9,1101.8 508.9,1098.2 509.8,1098.4 510.8,1100.9 511.7,1099.6 512.7,1100 513.1,1090 513.3,1030 513.4,960 513.6,900 513.9,854.9 514.1,900 514.4,960 514.5,1030 514.7,1090 515.1,1100 516,1100.6 517,1099.5 517.9,1098.4 518.9,1101.3 519.8,1093.3 520.8,1100.6 521.7,1099.1 522.7,1102 523.6,1100 524,1090 524.2,1030 524.3,960 524.5,900 524.8,856.2 525,900 525.3,960 525.4,1030 525.6,1090 526,1100 526.9,1094.8 527.9,1098.2 528.8,1102 529.8,1101.5 530.7,1101 531.7,1098.5 532.6,1098.7 533.6,1099.4 534.4,1100 534.8,1090 535,1030 535.1,960 535.4,900 535.6,856.5 535.9,900 536.1,960 536.2,1030 536.4,1090 536.8,1100 537.7,1102.8 538.7,1102.7 539.6,1100.3 540.6,1100.3 541.5,1099.9 542.5,1099.8 543.4,1102.6 544.4,1100.4 545.3,1098.4 545.8,1100 546.2,1090 546.4,1030 546.5,960 546.8,900 547,856.5 547.2,900 547.5,960 547.6,1030 547.8,1090 548.2,1100 549.1,1101.8 550.1,1099.7 551,1101.7 552,1101.2 552.9,1099.7 553.9,1099.3 554.8,1101.7 555.5,1100 555.9,1090 556.1,1030 556.2,960 556.5,900 556.7,856.5 557,900 557.2,960 557.3,1030 557.5,1090 557.9,1100 558.8,1099.4 559.8,1101.1 560.7,1098.1 561.7,1099.2 562.6,1100.2 563.6,1101.1 564.5,1099.7 565.5,1101.5 566.4,1100 566.8,1090 567,1030 567.1,960 567.4,900 567.6,856.5 567.9,900 568.1,960 568.2,1030 568.4,1090 568.8,1100 569.7,1099.7 570.7,1102.2 571.6,1102.7 572.6,1100.5 573.5,1098.8 574.5,1102.5 575.4,1101.3 576.4,1101.5 577.4,1100 577.8,1090 578,1030 578.1,960 578.4,900 578.6,856.5 578.9,900 579.1,960 579.2,1030 579.4,1090 579.8,1100 580.7,1101.7 581.7,1101.2 582.6,1101 583.6,1101.1 584.5,1098.1 585.5,1100.1 586.4,1099.1 587.4,1097.4 588.3,1100 588.7,1090 588.9,1030 589,960 589.2,900 589.5,856.5 589.8,900 590,960 590.1,1030 590.3,1090 590.7,1100 591.6,1096.6 592.6,1099.5 593.5,1095.3 594.5,1099.8 595.4,1100.8 596.4,1098.9 597.3,1099.3 598.3,1098.6 599.3,1100 599.7,1090 599.9,1030 600,960 600.2,900 600.5,856.5 600.8,900 601,960 601.1,1030 601.3,1090 601.7,1100 602.6,1095.6 603.6,1098.5 604.5,1099.6 605.5,1102.6 606.4,1100 607.4,1101.1 608.3,1098.7 609.3,1100.7 610.4,1100 610.8,1090 611,1030 611.1,960 611.4,900 611.6,856.5 611.9,900 612.1,960 612.2,1030 612.4,1090 612.8,1100 613.7,1102.6 614.7,1099.7 615.6,1094 616.6,1101 617.5,1101 618.5,1099.8 619.4,1099.1 620.4,1102.7 621.2,1100 621.6,1090 621.8,1030 621.9,960 622.1,900 622.4,856.5 622.6,900 622.9,960 623,1030 623.2,1090 623.6,1100 624.5,1102.6 625.5,1100.9 626.4,1102.7 627.4,1100 628.3,1102.7 629.3,1099.4 630.2,1098.6 631.3,1100 631.7,1090 631.9,1030 632,960 632.2,900 632.5,856.5 632.8,900 633,960 633.1,1030 633.3,1090 633.7,1100 634.6,1100.1 635.6,1101.8 636.5,1098.1 637.5,1099.3 638.4,1101.8 639.4,1099.3 640.3,1102.7 641.3,1100.9 642.4,1100 642.8,1090 643,1030 643.1,960 643.4,900 643.6,856.5 643.9,900 644.1,960 644.2,1030 644.4,1090 644.8,1100 645.7,1101.1 646.7,1096.9 647.6,1099.4 648.6,1099.6 649.5,1100.5 650.5,1099.7 651.4,1098 652.4,1100.2 653.2,1100 653.6,1090 653.8,1030 653.9,960 654.1,900 654.4,856.5 654.6,900 654.9,960 655,1030 655.2,1090 655.6,1100 656.5,1102.3 657.5,1098.1 658.4,1100.1 659.4,1101.4 660.3,1100.3 661.3,1099.9 662.2,1102.1 663.2,1099.4 664.1,1100 664.5,1090 664.7,1030 664.8,960 665,900 665.3,856.5 665.5,900 665.8,960 665.9,1030 666.1,1090 666.5,1100 667.4,1098.3 668.4,1101.3 669.3,1099.4 670.3,1102.4 671.2,1100.3 672.2,1100.4 673.1,1098.7 674.1,1099.1 674.9,1100 675.3,1090 675.5,1030 675.6,960 675.9,900 676.1,856.5 676.4,900 676.6,960 676.7,1030 676.9,1090 677.3,1100 678.2,1101.9 679.2,1096.7 680.1,1102.7 681.1,1096.4 682,1099.1 683,1102.6 683.9,1098.6 684.9,1102.4 685.8,1100 686.2,1090 686.4,1030 686.5,960 686.8,900 687,856.5 687.2,900 687.5,960 687.6,1030 687.8,1090 688.2,1100 689.1,1100.9 690.1,1098.8 691,1094.9 692,1094.3 692.9,1101.6 693.9,1098.6 694.8,1099.5 695.8,1100.3 696.4,1100 696.8,1090 697,1030 697.1,960 697.4,900 697.6,856.5 697.9,900 698.1,960 698.2,1030 698.4,1090 698.8,1100 699.7,1095.4 700.7,1098.7 701.6,1100.4 702.6,1100.7 703.5,1099.3 704.5,1099.2 705.4,1100.5 706.4,1099.1 707.3,1101.5 707.7,1100 708.1,1090 708.3,1030 708.4,960 708.6,900 708.9,856.5 709.1,900 709.4,960 709.5,1030 709.7,1090 710.1,1100 711,1101.4 712,1098.4 712.9,1098.4 713.9,1100.9 714.8,1102.2 715.8,1099.6 716.7,1098.1 717.7,1098.3 718.3,1100 718.7,1090 718.9,1030 719,960 719.2,900 719.5,856.5 719.8,900 720,960 720.1,1030 720.3,1090 720.7,1100 721.6,1102.6 722.6,1093.7 723.5,1101.2 724.5,1098.7 725.4,1099.7 726.4,1099.6 727.3,1099.7 728.3,1098.7 729.2,1100 729.6,1090 729.8,1030 729.9,960 730.1,900 730.4,856.5 730.6,900 730.9,960 731,1030 731.2,1090 731.6,1100 732.5,1101.1 733.5,1100.1 734.4,1100.5 735.4,1100.8 736.3,1097.8 737.3,1093.9 738.2,1100.3 739.2,1098 740,1100 740.4,1090 740.6,1030 740.7,960 741,900 741.2,856.5 741.5,900 741.7,960 741.8,1030 742,1090 742.4,1100 743.3,1102.3 744.3,1100.1 745.2,1098.5 746.2,1098.8 747.1,1099.9 748.1,1098.7 749,1099.3 750,1099.4 750.9,1100 751.3,1090 751.5,1030 751.6,960 751.9,900 752.1,856.5 752.4,900 752.6,960 752.7,1030 752.9,1090 753.3,1100 754.2,1095.1 755.2,1099.8 756.1,1101.3 757.1,1100.3 758,1098.6 759,1099.4 759.9,1101.5 760.9,1096.2 761.2,1100 761.6,1090 761.8,1030 761.9,960 762.1,900 762.4,856.5 762.6,900 762.9,960 763,1030 763.2,1090 763.6,1100 764.5,1098.4 765.5,1102.7 766.4,1099.5 767.4,1099.4 768.3,1101.4 769.3,1099.2 770.2,1102.5 771.2,1100.1 772,1100 772.4,1090 772.6,1030 772.7,960 773,900 773.2,856.5 773.5,900 773.7,960 773.8,1030 774,1090 774.4,1100 775.3,1093.3 776.3,1096 777.2,1102.8 778.2,1097.4 779.1,1102.3 780.1,1099.6 781,1098.2 782,1098.3 782.9,1100 783.3,1090 783.5,1030 783.6,960 783.9,900 784.1,856.5 784.4,900 784.6,960 784.7,1030 784.9,1090 785.3,1100 786.2,1100 787.2,1092.8 788.1,1098.9 789.1,1099.9 790,1098.4 791,1098.5 791.9,1102.4 792.9,1102.1 793.7,1100 794.1,1090 794.3,1030 794.4,960 794.6,900 794.9,856.5 795.1,900 795.4,960 795.5,1030 795.7,1090 796.1,1100 797,1098.1 798,1100.3 798.9,1099.8 799.9,1101.5 800.8,1099.5 801.8,1102 802.7,1098.6 803.7,1098.4 804.8,1100 805.2,1090 805.4,1030 805.5,960 805.8,900 806,856.5 806.2,900 806.5,960 806.6,1030 806.8,1090 807.2,1100 808.1,1101.9 809.1,1095.8 810,1098.4 811,1100.8 811.9,1098.3 812.9,1098.2 813.8,1099.4 814.8,1098.5 815.7,1100 816.1,1090 816.3,1030 816.4,960 816.6,900 816.9,856.5 817.1,900 817.4,960 817.5,1030 817.7,1090 818.1,1100 819,1099.5 820,1100.7 820.9,1101.1 821.9,1100.8 822.8,1101.9" fill="none" stroke="#000092" stroke-width="1.9" stroke-linejoin="round" stroke-linecap="round" />
<line x1="459.5" y1="789.8" x2="459.5" y2="1104.6" stroke="#000092" stroke-width="2.6" />
<line x1="1054.1" y1="762.4" x2="1054.1" y2="1307.3" stroke="#000" stroke-width="1.6" />
<line x1="1053.3" y1="1306.5" x2="1729.8" y2="1306.5" stroke="#000" stroke-width="1.6" />
<line x1="1043.3" y1="810" x2="1054.1" y2="810" stroke="#000" stroke-width="1.6" />
<text transform="translate(1035.6,824.2) scale(1.0,1.05)" font-size="43.5" text-anchor="end" font-weight="normal" >1.0</text>
<line x1="1043.3" y1="1046.5" x2="1054.1" y2="1046.5" stroke="#000" stroke-width="1.6" />
<text transform="translate(1035.6,1060.7) scale(1.0,1.05)" font-size="43.5" text-anchor="end" font-weight="normal" >0.5</text>
<line x1="1043.3" y1="1283" x2="1054.1" y2="1283" stroke="#000" stroke-width="1.6" />
<text transform="translate(1035.6,1297.2) scale(1.0,1.05)" font-size="43.5" text-anchor="end" font-weight="normal" >0.0</text>
<line x1="1048.4" y1="928.2" x2="1054.1" y2="928.2" stroke="#000" stroke-width="1.6" />
<line x1="1048.4" y1="1164.8" x2="1054.1" y2="1164.8" stroke="#000" stroke-width="1.6" />
<line x1="1054" y1="1306.5" x2="1054" y2="1317.2" stroke="#000" stroke-width="1.6" />
<text transform="translate(1050.5,1359.4) scale(1.0,1.05)" font-size="43.5" text-anchor="middle" font-weight="normal" >-6</text>
<line x1="1110.2" y1="1306.5" x2="1110.2" y2="1312.1" stroke="#000" stroke-width="1.6" />
<line x1="1166.5" y1="1306.5" x2="1166.5" y2="1317.2" stroke="#000" stroke-width="1.6" />
<text transform="translate(1163,1359.4) scale(1.0,1.05)" font-size="43.5" text-anchor="middle" font-weight="normal" >-4</text>
<line x1="1222.8" y1="1306.5" x2="1222.8" y2="1312.1" stroke="#000" stroke-width="1.6" />
<line x1="1279" y1="1306.5" x2="1279" y2="1317.2" stroke="#000" stroke-width="1.6" />
<text transform="translate(1275.5,1359.4) scale(1.0,1.05)" font-size="43.5" text-anchor="middle" font-weight="normal" >-2</text>
<line x1="1335.2" y1="1306.5" x2="1335.2" y2="1312.1" stroke="#000" stroke-width="1.6" />
<line x1="1391.5" y1="1306.5" x2="1391.5" y2="1317.2" stroke="#000" stroke-width="1.6" />
<text transform="translate(1391.5,1359.4) scale(1.0,1.05)" font-size="43.5" text-anchor="middle" font-weight="normal" >0</text>
<line x1="1447.8" y1="1306.5" x2="1447.8" y2="1312.1" stroke="#000" stroke-width="1.6" />
<line x1="1504" y1="1306.5" x2="1504" y2="1317.2" stroke="#000" stroke-width="1.6" />
<text transform="translate(1504,1359.4) scale(1.0,1.05)" font-size="43.5" text-anchor="middle" font-weight="normal" >2</text>
<line x1="1560.2" y1="1306.5" x2="1560.2" y2="1312.1" stroke="#000" stroke-width="1.6" />
<line x1="1616.5" y1="1306.5" x2="1616.5" y2="1317.2" stroke="#000" stroke-width="1.6" />
<text transform="translate(1616.5,1359.4) scale(1.0,1.05)" font-size="43.5" text-anchor="middle" font-weight="normal" >4</text>
<line x1="1672.8" y1="1306.5" x2="1672.8" y2="1312.1" stroke="#000" stroke-width="1.6" />
<line x1="1729" y1="1306.5" x2="1729" y2="1317.2" stroke="#000" stroke-width="1.6" />
<text transform="translate(1729,1359.4) scale(1.0,1.05)" font-size="43.5" text-anchor="middle" font-weight="normal" >6</text>
<text transform="translate(960.5,1034) rotate(-90)" font-size="43.8" text-anchor="middle" font-weight="bold">Intensity (a.u)</text>
<text x="1391" y="1420.3" font-size="43.4" text-anchor="middle" font-weight="bold" >Time (ps)</text>
<text transform="translate(876,772.4) scale(1.045,1.0)" font-size="55.2" text-anchor="start" font-weight="normal" >(d)</text>
<clipPath id="cd"><rect x="1053.3" y="760" width="676.5" height="548"/></clipPath>
<g fill="#0000ff" clip-path="url(#cd)">
<circle cx="1054" cy="1219" r="3.45"/>
<circle cx="1061" cy="1216.5" r="3.45"/>
<circle cx="1068.1" cy="1215.9" r="3.45"/>
<circle cx="1075.1" cy="1216.9" r="3.45"/>
<circle cx="1082.1" cy="1218.2" r="3.45"/>
<circle cx="1089.2" cy="1218.6" r="3.45"/>
<circle cx="1096.2" cy="1216.5" r="3.45"/>
<circle cx="1103.2" cy="1213.7" r="3.45"/>
<circle cx="1110.2" cy="1212.5" r="3.45"/>
<circle cx="1117.3" cy="1214.5" r="3.45"/>
<circle cx="1124.3" cy="1221.6" r="3.45"/>
<circle cx="1131.3" cy="1233.2" r="3.45"/>
<circle cx="1138.4" cy="1245.4" r="3.45"/>
<circle cx="1145.4" cy="1254.6" r="3.45"/>
<circle cx="1152.4" cy="1257" r="3.45"/>
<circle cx="1159.5" cy="1252.5" r="3.45"/>
<circle cx="1166.5" cy="1243" r="3.45"/>
<circle cx="1173.5" cy="1233.6" r="3.45"/>
<circle cx="1180.6" cy="1227.7" r="3.45"/>
<circle cx="1187.6" cy="1227.3" r="3.45"/>
<circle cx="1194.6" cy="1232.8" r="3.45"/>
<circle cx="1201.7" cy="1242.4" r="3.45"/>
<circle cx="1208.7" cy="1250.9" r="3.45"/>
<circle cx="1215.7" cy="1257.8" r="3.45"/>
<circle cx="1222.8" cy="1261.1" r="3.45"/>
<circle cx="1229.8" cy="1260.7" r="3.45"/>
<circle cx="1236.8" cy="1258" r="3.45"/>
<circle cx="1243.8" cy="1254.2" r="3.45"/>
<circle cx="1250.9" cy="1249.9" r="3.45"/>
<circle cx="1257.9" cy="1244" r="3.45"/>
<circle cx="1264.9" cy="1236.1" r="3.45"/>
<circle cx="1272" cy="1223.7" r="3.45"/>
<circle cx="1279" cy="1209" r="3.45"/>
<circle cx="1286" cy="1192.3" r="3.45"/>
<circle cx="1293.1" cy="1175.3" r="3.45"/>
<circle cx="1300.1" cy="1158.5" r="3.45"/>
<circle cx="1307.1" cy="1138.3" r="3.45"/>
<circle cx="1314.2" cy="1115.5" r="3.45"/>
<circle cx="1321.2" cy="1087" r="3.45"/>
<circle cx="1328.2" cy="1051.7" r="3.45"/>
<circle cx="1335.2" cy="1012.3" r="3.45"/>
<circle cx="1342.3" cy="970.6" r="3.45"/>
<circle cx="1349.3" cy="930.1" r="3.45"/>
<circle cx="1356.3" cy="893" r="3.45"/>
<circle cx="1363.4" cy="860.5" r="3.45"/>
<circle cx="1370.4" cy="834.4" r="3.45"/>
<circle cx="1377.4" cy="817.1" r="3.45"/>
<circle cx="1384.5" cy="810.3" r="3.45"/>
<circle cx="1391.5" cy="815.2" r="3.45"/>
<circle cx="1398.5" cy="830.8" r="3.45"/>
<circle cx="1405.6" cy="855.3" r="3.45"/>
<circle cx="1412.6" cy="885" r="3.45"/>
<circle cx="1419.6" cy="916.9" r="3.45"/>
<circle cx="1426.7" cy="949.7" r="3.45"/>
<circle cx="1433.7" cy="983.9" r="3.45"/>
<circle cx="1440.7" cy="1018.9" r="3.45"/>
<circle cx="1447.8" cy="1055.6" r="3.45"/>
<circle cx="1454.8" cy="1091.4" r="3.45"/>
<circle cx="1461.8" cy="1125.6" r="3.45"/>
<circle cx="1468.8" cy="1154" r="3.45"/>
<circle cx="1475.9" cy="1177.3" r="3.45"/>
<circle cx="1482.9" cy="1195" r="3.45"/>
<circle cx="1489.9" cy="1209" r="3.45"/>
<circle cx="1497" cy="1222" r="3.45"/>
<circle cx="1504" cy="1236.7" r="3.45"/>
<circle cx="1511" cy="1250.5" r="3.45"/>
<circle cx="1518.1" cy="1263.7" r="3.45"/>
<circle cx="1525.1" cy="1272.5" r="3.45"/>
<circle cx="1532.1" cy="1276.5" r="3.45"/>
<circle cx="1539.2" cy="1276.3" r="3.45"/>
<circle cx="1546.2" cy="1273.3" r="3.45"/>
<circle cx="1553.2" cy="1270.2" r="3.45"/>
<circle cx="1560.2" cy="1268.6" r="3.45"/>
<circle cx="1567.3" cy="1269.6" r="3.45"/>
<circle cx="1574.3" cy="1272.5" r="3.45"/>
<circle cx="1581.3" cy="1276.3" r="3.45"/>
<circle cx="1588.4" cy="1279.2" r="3.45"/>
<circle cx="1595.4" cy="1281.2" r="3.45"/>
<circle cx="1602.4" cy="1283" r="3.45"/>
<circle cx="1609.5" cy="1285.1" r="3.45"/>
<circle cx="1616.5" cy="1287.1" r="3.45"/>
<circle cx="1623.5" cy="1287.9" r="3.45"/>
<circle cx="1630.6" cy="1286.9" r="3.45"/>
<circle cx="1637.6" cy="1283" r="3.45"/>
<circle cx="1644.6" cy="1279" r="3.45"/>
<circle cx="1651.7" cy="1275.3" r="3.45"/>
<circle cx="1658.7" cy="1273.3" r="3.45"/>
<circle cx="1665.7" cy="1275.3" r="3.45"/>
<circle cx="1672.8" cy="1279" r="3.45"/>
<circle cx="1679.8" cy="1283.2" r="3.45"/>
<circle cx="1686.8" cy="1286.1" r="3.45"/>
<circle cx="1693.8" cy="1285.5" r="3.45"/>
<circle cx="1700.9" cy="1283" r="3.45"/>
<circle cx="1707.9" cy="1281.2" r="3.45"/>
<circle cx="1714.9" cy="1280.8" r="3.45"/>
<circle cx="1722" cy="1282.4" r="3.45"/>
<circle cx="1729" cy="1285.5" r="3.45"/>
</g>
<polyline points="1054.8,1252 1056.8,1252 1058.8,1252 1060.8,1252 1062.8,1252 1064.8,1252 1066.8,1252 1068.8,1252 1070.8,1252 1072.8,1252 1074.8,1252 1076.8,1252 1078.8,1252 1080.8,1252 1082.8,1252 1084.8,1252 1086.8,1252 1088.8,1252 1090.8,1252 1092.8,1252 1094.8,1252 1096.8,1252 1098.8,1252 1100.8,1252 1102.8,1252 1104.8,1252 1106.8,1252 1108.8,1252 1110.8,1252 1112.8,1252 1114.8,1252 1116.8,1252 1118.8,1252 1120.8,1252 1122.8,1252 1124.8,1252 1126.8,1252 1128.8,1252 1130.8,1252 1132.8,1252 1134.8,1252 1136.8,1252 1138.8,1252 1140.8,1252 1142.8,1252 1144.8,1252 1146.8,1252 1148.8,1252 1150.8,1252 1152.8,1252 1154.8,1252 1156.8,1252 1158.8,1252 1160.8,1252 1162.8,1252 1164.8,1252 1166.8,1252 1168.8,1252 1170.8,1252 1172.8,1252 1174.8,1252 1176.8,1252 1178.8,1252 1180.8,1252 1182.8,1252 1184.8,1252 1186.8,1251.9 1188.8,1251.9 1190.8,1251.9 1192.8,1251.9 1194.8,1251.9 1196.8,1251.9 1198.8,1251.8 1200.8,1251.8 1202.8,1251.8 1204.8,1251.7 1206.8,1251.6 1208.8,1251.6 1210.8,1251.5 1212.8,1251.4 1214.8,1251.3 1216.8,1251.2 1218.8,1251.1 1220.8,1250.9 1222.8,1250.8 1224.8,1250.6 1226.8,1250.4 1228.8,1250.1 1230.8,1249.8 1232.8,1249.5 1234.8,1249.2 1236.8,1248.8 1238.8,1248.3 1240.8,1247.8 1242.8,1247.2 1244.8,1246.6 1246.8,1245.9 1248.8,1245.1 1250.8,1244.2 1252.8,1243.2 1254.8,1242.1 1256.8,1240.9 1258.8,1239.6 1260.8,1238.1 1262.8,1236.5 1264.8,1234.7 1266.8,1232.8 1268.8,1230.7 1270.8,1228.4 1272.8,1225.9 1274.8,1223.2 1276.8,1220.2 1278.8,1217 1280.8,1213.6 1282.8,1209.9 1284.8,1205.9 1286.8,1201.7 1288.8,1197.1 1290.8,1192.2 1292.8,1187.1 1294.8,1181.6 1296.8,1175.7 1298.8,1169.6 1300.8,1163.1 1302.8,1156.2 1304.8,1149 1306.8,1141.5 1308.8,1133.6 1310.8,1125.4 1312.8,1116.8 1314.8,1108 1316.8,1098.8 1318.8,1089.3 1320.8,1079.6 1322.8,1069.5 1324.8,1059.3 1326.8,1048.8 1328.8,1038.1 1330.8,1027.3 1332.8,1016.3 1334.8,1005.3 1336.8,994.1 1338.8,983 1340.8,971.9 1342.8,960.8 1344.8,949.8 1346.8,939 1348.8,928.3 1350.8,917.9 1352.8,907.8 1354.8,897.9 1356.8,888.5 1358.8,879.4 1360.8,870.8 1362.8,862.7 1364.8,855.1 1366.8,848.1 1368.8,841.7 1370.8,835.9 1372.8,830.8 1374.8,826.3 1376.8,822.6 1378.8,819.7 1380.8,817.4 1382.8,816 1384.8,815.3 1386.8,815.3 1388.8,816.2 1390.8,817.8 1392.8,820.2 1394.8,823.3 1396.8,827.2 1398.8,831.7 1400.8,837 1402.8,842.9 1404.8,849.4 1406.8,856.6 1408.8,864.3 1410.8,872.5 1412.8,881.2 1414.8,890.3 1416.8,899.9 1418.8,909.8 1420.8,920 1422.8,930.4 1424.8,941.1 1426.8,952 1428.8,963 1430.8,974.1 1432.8,985.2 1434.8,996.4 1436.8,1007.5 1438.8,1018.5 1440.8,1029.5 1442.8,1040.3 1444.8,1050.9 1446.8,1061.3 1448.8,1071.6 1450.8,1081.5 1452.8,1091.2 1454.8,1100.7 1456.8,1109.8 1458.8,1118.6 1460.8,1127.1 1462.8,1135.2 1464.8,1143 1466.8,1150.5 1468.8,1157.6 1470.8,1164.4 1472.8,1170.8 1474.8,1176.9 1476.8,1182.7 1478.8,1188.1 1480.8,1193.2 1482.8,1198 1484.8,1202.5 1486.8,1206.7 1488.8,1210.7 1490.8,1214.3 1492.8,1217.7 1494.8,1220.8 1496.8,1223.7 1498.8,1226.4 1500.8,1228.9 1502.8,1231.1 1504.8,1233.2 1506.8,1235.1 1508.8,1236.8 1510.8,1238.4 1512.8,1239.9 1514.8,1241.2 1516.8,1242.3 1518.8,1243.4 1520.8,1244.4 1522.8,1245.2 1524.8,1246 1526.8,1246.7 1528.8,1247.3 1530.8,1247.9 1532.8,1248.4 1534.8,1248.9 1536.8,1249.2 1538.8,1249.6 1540.8,1249.9 1542.8,1250.2 1544.8,1250.4 1546.8,1250.6 1548.8,1250.8 1550.8,1251 1552.8,1251.1 1554.8,1251.2 1556.8,1251.4 1558.8,1251.4 1560.8,1251.5 1562.8,1251.6 1564.8,1251.7 1566.8,1251.7 1568.8,1251.8 1570.8,1251.8 1572.8,1251.8 1574.8,1251.9 1576.8,1251.9 1578.8,1251.9 1580.8,1251.9 1582.8,1251.9 1584.8,1252 1586.8,1252 1588.8,1252 1590.8,1252 1592.8,1252 1594.8,1252 1596.8,1252 1598.8,1252 1600.8,1252 1602.8,1252 1604.8,1252 1606.8,1252 1608.8,1252 1610.8,1252 1612.8,1252 1614.8,1252 1616.8,1252 1618.8,1252 1620.8,1252 1622.8,1252 1624.8,1252 1626.8,1252 1628.8,1252 1630.8,1252 1632.8,1252 1634.8,1252 1636.8,1252 1638.8,1252 1640.8,1252 1642.8,1252 1644.8,1252 1646.8,1252 1648.8,1252 1650.8,1252 1652.8,1252 1654.8,1252 1656.8,1252 1658.8,1252 1660.8,1252 1662.8,1252 1664.8,1252 1666.8,1252 1668.8,1252 1670.8,1252 1672.8,1252 1674.8,1252 1676.8,1252 1678.8,1252 1680.8,1252 1682.8,1252 1684.8,1252 1686.8,1252 1688.8,1252 1690.8,1252 1692.8,1252 1694.8,1252 1696.8,1252 1698.8,1252 1700.8,1252 1702.8,1252 1704.8,1252 1706.8,1252 1708.8,1252 1710.8,1252 1712.8,1252 1714.8,1252 1716.8,1252 1718.8,1252 1720.8,1252 1722.8,1252 1724.8,1252 1726.8,1252" fill="none" stroke="#ff0000" stroke-width="3" stroke-linejoin="round" stroke-linecap="round" />
<polygon points="1332.6,1018.8 1348.6,1014.1 1348.6,1023.5" fill="#ff0000"/>
<polygon points="1439.2,1018.8 1423.2,1014.1 1423.2,1023.5" fill="#ff0000"/>
<line x1="1347.6" y1="1018.8" x2="1424.2" y2="1018.8" stroke="#ff0000" stroke-width="3" />
<text x="1328.3" y="1098.4" font-size="35.5" text-anchor="start" font-weight="normal" >1.34 ps</text>
<circle cx="1533" cy="781.3" r="3.7" fill="#0000ff"/>
<text transform="translate(1575.6,791.3) scale(1.0,1.03)" font-size="30.4" text-anchor="start" font-weight="normal" >Exp. data</text>
<line x1="1499" y1="822.7" x2="1567" y2="822.7" stroke="#ff0000" stroke-width="3" stroke-linecap="round"/>
<text transform="translate(1575.6,832.8) scale(1.0,1.03)" font-size="30.4" text-anchor="start" font-weight="normal"  letter-spacing="0.25">Sech<tspan font-size="20" dy="-11.5">2</tspan><tspan dy="11.5"> fit</tspan></text>
</svg></body></html>
